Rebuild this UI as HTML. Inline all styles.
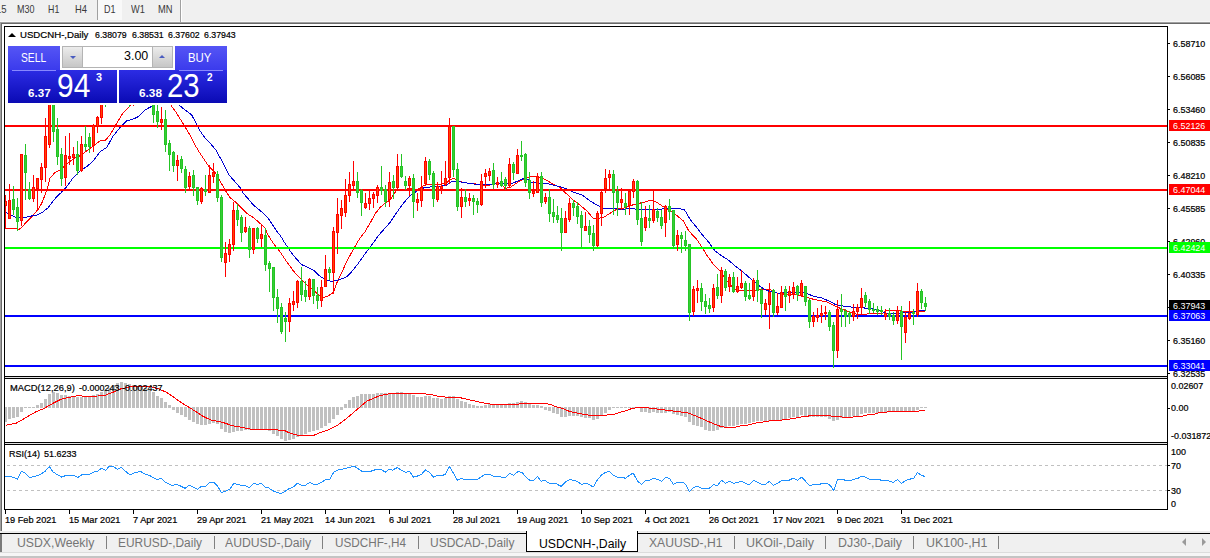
<!DOCTYPE html>
<html><head><meta charset="utf-8"><title>chart</title><style>
*{margin:0;padding:0;box-sizing:border-box}
html,body{width:1210px;height:558px;overflow:hidden;background:#f0f0f0;font-family:"Liberation Sans",sans-serif;}
.a{position:absolute;white-space:nowrap;line-height:1}
.t{position:absolute;white-space:nowrap;line-height:1;transform-origin:0 0}
.k{-webkit-text-stroke:0.22px #000}
</style></head><body>
<div class="a" style="left:0px;top:0px;width:1210px;height:22px;background:#f0f0f0;"></div>
<div class="a" style="left:0px;top:21px;width:1210px;height:1px;background:#f8f8f8;"></div>
<div class="a" style="left:0px;top:22px;width:1210px;height:1px;background:#a0a0a0;"></div>
<div class="a" style="left:0px;top:23px;width:1210px;height:1px;background:#696969;"></div>
<div class="a" style="left:0px;top:24px;width:1210px;height:2px;background:#ffffff;"></div>
<div class="a" style="left:97px;top:0px;width:1px;height:20px;background:#a0a0a0;"></div>
<div class="a" style="left:98px;top:0px;width:24px;height:20px;background:#f9f9f9;"></div>
<div class="a" style="left:180px;top:0px;width:1px;height:22px;background:#a0a0a0;"></div>
<div class="a" style="left:181px;top:0px;width:1px;height:22px;background:#ffffff;"></div>
<div class="t" style="left:-4.40px;top:5.27px;font-size:10.2px;color:#3a3a3a;transform:scaleX(0.9344);">15</div>
<div class="t" style="left:16.50px;top:5.27px;font-size:10.2px;color:#3a3a3a;transform:scaleX(0.8820);">M30</div>
<div class="t" style="left:47.80px;top:5.27px;font-size:10.2px;color:#3a3a3a;transform:scaleX(0.8667);">H1</div>
<div class="t" style="left:74.80px;top:5.27px;font-size:10.2px;color:#3a3a3a;transform:scaleX(0.9204);">H4</div>
<div class="t" style="left:103.60px;top:5.27px;font-size:10.2px;color:#3a3a3a;transform:scaleX(0.8820);">D1</div>
<div class="t" style="left:131.20px;top:5.27px;font-size:10.2px;color:#3a3a3a;transform:scaleX(0.9020);">W1</div>
<div class="t" style="left:157.80px;top:5.27px;font-size:10.2px;color:#3a3a3a;transform:scaleX(0.9141);">MN</div>
<div class="a" style="left:0px;top:22px;width:1px;height:509px;background:#a0a0a0;"></div>
<div class="a" style="left:1px;top:23px;width:1px;height:508px;background:#696969;"></div>
<div class="a" style="left:2px;top:24px;width:1208px;height:507px;background:#ffffff;"></div>
<svg class="a" style="left:0;top:0" width="1210" height="558" viewBox="0 0 1210 558" shape-rendering="crispEdges">
<rect x="4" y="26" width="1164" height="1" fill="#000"/>
<rect x="4" y="26" width="1" height="484" fill="#000"/>
<rect x="1167" y="26" width="1" height="484" fill="#000"/>
<rect x="4" y="376" width="1164" height="1" fill="#000"/>
<rect x="4" y="378" width="1164" height="1" fill="#000"/>
<rect x="4" y="442" width="1164" height="1" fill="#000"/>
<rect x="4" y="444" width="1164" height="1" fill="#000"/>
<rect x="4" y="509" width="1164" height="1" fill="#000"/>
<rect x="5" y="377" width="1162" height="1" fill="#e0e0e0"/>
<rect x="5" y="443" width="1162" height="1" fill="#e0e0e0"/>
<rect x="1168" y="43" width="2" height="1" fill="#000"/>
<rect x="1168" y="76" width="2" height="1" fill="#000"/>
<rect x="1168" y="109" width="2" height="1" fill="#000"/>
<rect x="1168" y="142" width="2" height="1" fill="#000"/>
<rect x="1168" y="175" width="2" height="1" fill="#000"/>
<rect x="1168" y="208" width="2" height="1" fill="#000"/>
<rect x="1168" y="241" width="2" height="1" fill="#000"/>
<rect x="1168" y="274" width="2" height="1" fill="#000"/>
<rect x="1168" y="307" width="2" height="1" fill="#000"/>
<rect x="1168" y="340" width="2" height="1" fill="#000"/>
<rect x="1168" y="373" width="2" height="1" fill="#000"/>
<rect x="1168" y="408" width="2" height="1" fill="#000"/>
<rect x="1168" y="465" width="2" height="1" fill="#000"/>
<rect x="1168" y="490" width="2" height="1" fill="#000"/>
<rect x="5" y="510" width="1" height="4" fill="#000"/>
<rect x="69" y="510" width="1" height="4" fill="#000"/>
<rect x="133" y="510" width="1" height="4" fill="#000"/>
<rect x="197" y="510" width="1" height="4" fill="#000"/>
<rect x="261" y="510" width="1" height="4" fill="#000"/>
<rect x="325" y="510" width="1" height="4" fill="#000"/>
<rect x="389" y="510" width="1" height="4" fill="#000"/>
<rect x="453" y="510" width="1" height="4" fill="#000"/>
<rect x="517" y="510" width="1" height="4" fill="#000"/>
<rect x="581" y="510" width="1" height="4" fill="#000"/>
<rect x="645" y="510" width="1" height="4" fill="#000"/>
<rect x="709" y="510" width="1" height="4" fill="#000"/>
<rect x="773" y="510" width="1" height="4" fill="#000"/>
<rect x="837" y="510" width="1" height="4" fill="#000"/>
<rect x="901" y="510" width="1" height="4" fill="#000"/>
<rect x="7" y="465" width="3" height="1" fill="#c0c0c0"/>
<rect x="13" y="465" width="3" height="1" fill="#c0c0c0"/>
<rect x="19" y="465" width="3" height="1" fill="#c0c0c0"/>
<rect x="25" y="465" width="3" height="1" fill="#c0c0c0"/>
<rect x="31" y="465" width="3" height="1" fill="#c0c0c0"/>
<rect x="37" y="465" width="3" height="1" fill="#c0c0c0"/>
<rect x="43" y="465" width="3" height="1" fill="#c0c0c0"/>
<rect x="49" y="465" width="3" height="1" fill="#c0c0c0"/>
<rect x="55" y="465" width="3" height="1" fill="#c0c0c0"/>
<rect x="61" y="465" width="3" height="1" fill="#c0c0c0"/>
<rect x="67" y="465" width="3" height="1" fill="#c0c0c0"/>
<rect x="73" y="465" width="3" height="1" fill="#c0c0c0"/>
<rect x="79" y="465" width="3" height="1" fill="#c0c0c0"/>
<rect x="85" y="465" width="3" height="1" fill="#c0c0c0"/>
<rect x="91" y="465" width="3" height="1" fill="#c0c0c0"/>
<rect x="97" y="465" width="3" height="1" fill="#c0c0c0"/>
<rect x="103" y="465" width="3" height="1" fill="#c0c0c0"/>
<rect x="109" y="465" width="3" height="1" fill="#c0c0c0"/>
<rect x="115" y="465" width="3" height="1" fill="#c0c0c0"/>
<rect x="121" y="465" width="3" height="1" fill="#c0c0c0"/>
<rect x="127" y="465" width="3" height="1" fill="#c0c0c0"/>
<rect x="133" y="465" width="3" height="1" fill="#c0c0c0"/>
<rect x="139" y="465" width="3" height="1" fill="#c0c0c0"/>
<rect x="145" y="465" width="3" height="1" fill="#c0c0c0"/>
<rect x="151" y="465" width="3" height="1" fill="#c0c0c0"/>
<rect x="157" y="465" width="3" height="1" fill="#c0c0c0"/>
<rect x="163" y="465" width="3" height="1" fill="#c0c0c0"/>
<rect x="169" y="465" width="3" height="1" fill="#c0c0c0"/>
<rect x="175" y="465" width="3" height="1" fill="#c0c0c0"/>
<rect x="181" y="465" width="3" height="1" fill="#c0c0c0"/>
<rect x="187" y="465" width="3" height="1" fill="#c0c0c0"/>
<rect x="193" y="465" width="3" height="1" fill="#c0c0c0"/>
<rect x="199" y="465" width="3" height="1" fill="#c0c0c0"/>
<rect x="205" y="465" width="3" height="1" fill="#c0c0c0"/>
<rect x="211" y="465" width="3" height="1" fill="#c0c0c0"/>
<rect x="217" y="465" width="3" height="1" fill="#c0c0c0"/>
<rect x="223" y="465" width="3" height="1" fill="#c0c0c0"/>
<rect x="229" y="465" width="3" height="1" fill="#c0c0c0"/>
<rect x="235" y="465" width="3" height="1" fill="#c0c0c0"/>
<rect x="241" y="465" width="3" height="1" fill="#c0c0c0"/>
<rect x="247" y="465" width="3" height="1" fill="#c0c0c0"/>
<rect x="253" y="465" width="3" height="1" fill="#c0c0c0"/>
<rect x="259" y="465" width="3" height="1" fill="#c0c0c0"/>
<rect x="265" y="465" width="3" height="1" fill="#c0c0c0"/>
<rect x="271" y="465" width="3" height="1" fill="#c0c0c0"/>
<rect x="277" y="465" width="3" height="1" fill="#c0c0c0"/>
<rect x="283" y="465" width="3" height="1" fill="#c0c0c0"/>
<rect x="289" y="465" width="3" height="1" fill="#c0c0c0"/>
<rect x="295" y="465" width="3" height="1" fill="#c0c0c0"/>
<rect x="301" y="465" width="3" height="1" fill="#c0c0c0"/>
<rect x="307" y="465" width="3" height="1" fill="#c0c0c0"/>
<rect x="313" y="465" width="3" height="1" fill="#c0c0c0"/>
<rect x="319" y="465" width="3" height="1" fill="#c0c0c0"/>
<rect x="325" y="465" width="3" height="1" fill="#c0c0c0"/>
<rect x="331" y="465" width="3" height="1" fill="#c0c0c0"/>
<rect x="337" y="465" width="3" height="1" fill="#c0c0c0"/>
<rect x="343" y="465" width="3" height="1" fill="#c0c0c0"/>
<rect x="349" y="465" width="3" height="1" fill="#c0c0c0"/>
<rect x="355" y="465" width="3" height="1" fill="#c0c0c0"/>
<rect x="361" y="465" width="3" height="1" fill="#c0c0c0"/>
<rect x="367" y="465" width="3" height="1" fill="#c0c0c0"/>
<rect x="373" y="465" width="3" height="1" fill="#c0c0c0"/>
<rect x="379" y="465" width="3" height="1" fill="#c0c0c0"/>
<rect x="385" y="465" width="3" height="1" fill="#c0c0c0"/>
<rect x="391" y="465" width="3" height="1" fill="#c0c0c0"/>
<rect x="397" y="465" width="3" height="1" fill="#c0c0c0"/>
<rect x="403" y="465" width="3" height="1" fill="#c0c0c0"/>
<rect x="409" y="465" width="3" height="1" fill="#c0c0c0"/>
<rect x="415" y="465" width="3" height="1" fill="#c0c0c0"/>
<rect x="421" y="465" width="3" height="1" fill="#c0c0c0"/>
<rect x="427" y="465" width="3" height="1" fill="#c0c0c0"/>
<rect x="433" y="465" width="3" height="1" fill="#c0c0c0"/>
<rect x="439" y="465" width="3" height="1" fill="#c0c0c0"/>
<rect x="445" y="465" width="3" height="1" fill="#c0c0c0"/>
<rect x="451" y="465" width="3" height="1" fill="#c0c0c0"/>
<rect x="457" y="465" width="3" height="1" fill="#c0c0c0"/>
<rect x="463" y="465" width="3" height="1" fill="#c0c0c0"/>
<rect x="469" y="465" width="3" height="1" fill="#c0c0c0"/>
<rect x="475" y="465" width="3" height="1" fill="#c0c0c0"/>
<rect x="481" y="465" width="3" height="1" fill="#c0c0c0"/>
<rect x="487" y="465" width="3" height="1" fill="#c0c0c0"/>
<rect x="493" y="465" width="3" height="1" fill="#c0c0c0"/>
<rect x="499" y="465" width="3" height="1" fill="#c0c0c0"/>
<rect x="505" y="465" width="3" height="1" fill="#c0c0c0"/>
<rect x="511" y="465" width="3" height="1" fill="#c0c0c0"/>
<rect x="517" y="465" width="3" height="1" fill="#c0c0c0"/>
<rect x="523" y="465" width="3" height="1" fill="#c0c0c0"/>
<rect x="529" y="465" width="3" height="1" fill="#c0c0c0"/>
<rect x="535" y="465" width="3" height="1" fill="#c0c0c0"/>
<rect x="541" y="465" width="3" height="1" fill="#c0c0c0"/>
<rect x="547" y="465" width="3" height="1" fill="#c0c0c0"/>
<rect x="553" y="465" width="3" height="1" fill="#c0c0c0"/>
<rect x="559" y="465" width="3" height="1" fill="#c0c0c0"/>
<rect x="565" y="465" width="3" height="1" fill="#c0c0c0"/>
<rect x="571" y="465" width="3" height="1" fill="#c0c0c0"/>
<rect x="577" y="465" width="3" height="1" fill="#c0c0c0"/>
<rect x="583" y="465" width="3" height="1" fill="#c0c0c0"/>
<rect x="589" y="465" width="3" height="1" fill="#c0c0c0"/>
<rect x="595" y="465" width="3" height="1" fill="#c0c0c0"/>
<rect x="601" y="465" width="3" height="1" fill="#c0c0c0"/>
<rect x="607" y="465" width="3" height="1" fill="#c0c0c0"/>
<rect x="613" y="465" width="3" height="1" fill="#c0c0c0"/>
<rect x="619" y="465" width="3" height="1" fill="#c0c0c0"/>
<rect x="625" y="465" width="3" height="1" fill="#c0c0c0"/>
<rect x="631" y="465" width="3" height="1" fill="#c0c0c0"/>
<rect x="637" y="465" width="3" height="1" fill="#c0c0c0"/>
<rect x="643" y="465" width="3" height="1" fill="#c0c0c0"/>
<rect x="649" y="465" width="3" height="1" fill="#c0c0c0"/>
<rect x="655" y="465" width="3" height="1" fill="#c0c0c0"/>
<rect x="661" y="465" width="3" height="1" fill="#c0c0c0"/>
<rect x="667" y="465" width="3" height="1" fill="#c0c0c0"/>
<rect x="673" y="465" width="3" height="1" fill="#c0c0c0"/>
<rect x="679" y="465" width="3" height="1" fill="#c0c0c0"/>
<rect x="685" y="465" width="3" height="1" fill="#c0c0c0"/>
<rect x="691" y="465" width="3" height="1" fill="#c0c0c0"/>
<rect x="697" y="465" width="3" height="1" fill="#c0c0c0"/>
<rect x="703" y="465" width="3" height="1" fill="#c0c0c0"/>
<rect x="709" y="465" width="3" height="1" fill="#c0c0c0"/>
<rect x="715" y="465" width="3" height="1" fill="#c0c0c0"/>
<rect x="721" y="465" width="3" height="1" fill="#c0c0c0"/>
<rect x="727" y="465" width="3" height="1" fill="#c0c0c0"/>
<rect x="733" y="465" width="3" height="1" fill="#c0c0c0"/>
<rect x="739" y="465" width="3" height="1" fill="#c0c0c0"/>
<rect x="745" y="465" width="3" height="1" fill="#c0c0c0"/>
<rect x="751" y="465" width="3" height="1" fill="#c0c0c0"/>
<rect x="757" y="465" width="3" height="1" fill="#c0c0c0"/>
<rect x="763" y="465" width="3" height="1" fill="#c0c0c0"/>
<rect x="769" y="465" width="3" height="1" fill="#c0c0c0"/>
<rect x="775" y="465" width="3" height="1" fill="#c0c0c0"/>
<rect x="781" y="465" width="3" height="1" fill="#c0c0c0"/>
<rect x="787" y="465" width="3" height="1" fill="#c0c0c0"/>
<rect x="793" y="465" width="3" height="1" fill="#c0c0c0"/>
<rect x="799" y="465" width="3" height="1" fill="#c0c0c0"/>
<rect x="805" y="465" width="3" height="1" fill="#c0c0c0"/>
<rect x="811" y="465" width="3" height="1" fill="#c0c0c0"/>
<rect x="817" y="465" width="3" height="1" fill="#c0c0c0"/>
<rect x="823" y="465" width="3" height="1" fill="#c0c0c0"/>
<rect x="829" y="465" width="3" height="1" fill="#c0c0c0"/>
<rect x="835" y="465" width="3" height="1" fill="#c0c0c0"/>
<rect x="841" y="465" width="3" height="1" fill="#c0c0c0"/>
<rect x="847" y="465" width="3" height="1" fill="#c0c0c0"/>
<rect x="853" y="465" width="3" height="1" fill="#c0c0c0"/>
<rect x="859" y="465" width="3" height="1" fill="#c0c0c0"/>
<rect x="865" y="465" width="3" height="1" fill="#c0c0c0"/>
<rect x="871" y="465" width="3" height="1" fill="#c0c0c0"/>
<rect x="877" y="465" width="3" height="1" fill="#c0c0c0"/>
<rect x="883" y="465" width="3" height="1" fill="#c0c0c0"/>
<rect x="889" y="465" width="3" height="1" fill="#c0c0c0"/>
<rect x="895" y="465" width="3" height="1" fill="#c0c0c0"/>
<rect x="901" y="465" width="3" height="1" fill="#c0c0c0"/>
<rect x="907" y="465" width="3" height="1" fill="#c0c0c0"/>
<rect x="913" y="465" width="3" height="1" fill="#c0c0c0"/>
<rect x="919" y="465" width="3" height="1" fill="#c0c0c0"/>
<rect x="925" y="465" width="3" height="1" fill="#c0c0c0"/>
<rect x="931" y="465" width="3" height="1" fill="#c0c0c0"/>
<rect x="937" y="465" width="3" height="1" fill="#c0c0c0"/>
<rect x="943" y="465" width="3" height="1" fill="#c0c0c0"/>
<rect x="949" y="465" width="3" height="1" fill="#c0c0c0"/>
<rect x="955" y="465" width="3" height="1" fill="#c0c0c0"/>
<rect x="961" y="465" width="3" height="1" fill="#c0c0c0"/>
<rect x="967" y="465" width="3" height="1" fill="#c0c0c0"/>
<rect x="973" y="465" width="3" height="1" fill="#c0c0c0"/>
<rect x="979" y="465" width="3" height="1" fill="#c0c0c0"/>
<rect x="985" y="465" width="3" height="1" fill="#c0c0c0"/>
<rect x="991" y="465" width="3" height="1" fill="#c0c0c0"/>
<rect x="997" y="465" width="3" height="1" fill="#c0c0c0"/>
<rect x="1003" y="465" width="3" height="1" fill="#c0c0c0"/>
<rect x="1009" y="465" width="3" height="1" fill="#c0c0c0"/>
<rect x="1015" y="465" width="3" height="1" fill="#c0c0c0"/>
<rect x="1021" y="465" width="3" height="1" fill="#c0c0c0"/>
<rect x="1027" y="465" width="3" height="1" fill="#c0c0c0"/>
<rect x="1033" y="465" width="3" height="1" fill="#c0c0c0"/>
<rect x="1039" y="465" width="3" height="1" fill="#c0c0c0"/>
<rect x="1045" y="465" width="3" height="1" fill="#c0c0c0"/>
<rect x="1051" y="465" width="3" height="1" fill="#c0c0c0"/>
<rect x="1057" y="465" width="3" height="1" fill="#c0c0c0"/>
<rect x="1063" y="465" width="3" height="1" fill="#c0c0c0"/>
<rect x="1069" y="465" width="3" height="1" fill="#c0c0c0"/>
<rect x="1075" y="465" width="3" height="1" fill="#c0c0c0"/>
<rect x="1081" y="465" width="3" height="1" fill="#c0c0c0"/>
<rect x="1087" y="465" width="3" height="1" fill="#c0c0c0"/>
<rect x="1093" y="465" width="3" height="1" fill="#c0c0c0"/>
<rect x="1099" y="465" width="3" height="1" fill="#c0c0c0"/>
<rect x="1105" y="465" width="3" height="1" fill="#c0c0c0"/>
<rect x="1111" y="465" width="3" height="1" fill="#c0c0c0"/>
<rect x="1117" y="465" width="3" height="1" fill="#c0c0c0"/>
<rect x="1123" y="465" width="3" height="1" fill="#c0c0c0"/>
<rect x="1129" y="465" width="3" height="1" fill="#c0c0c0"/>
<rect x="1135" y="465" width="3" height="1" fill="#c0c0c0"/>
<rect x="1141" y="465" width="3" height="1" fill="#c0c0c0"/>
<rect x="1147" y="465" width="3" height="1" fill="#c0c0c0"/>
<rect x="1153" y="465" width="3" height="1" fill="#c0c0c0"/>
<rect x="1159" y="465" width="3" height="1" fill="#c0c0c0"/>
<rect x="1165" y="465" width="2" height="1" fill="#c0c0c0"/>
<rect x="7" y="490" width="3" height="1" fill="#c0c0c0"/>
<rect x="13" y="490" width="3" height="1" fill="#c0c0c0"/>
<rect x="19" y="490" width="3" height="1" fill="#c0c0c0"/>
<rect x="25" y="490" width="3" height="1" fill="#c0c0c0"/>
<rect x="31" y="490" width="3" height="1" fill="#c0c0c0"/>
<rect x="37" y="490" width="3" height="1" fill="#c0c0c0"/>
<rect x="43" y="490" width="3" height="1" fill="#c0c0c0"/>
<rect x="49" y="490" width="3" height="1" fill="#c0c0c0"/>
<rect x="55" y="490" width="3" height="1" fill="#c0c0c0"/>
<rect x="61" y="490" width="3" height="1" fill="#c0c0c0"/>
<rect x="67" y="490" width="3" height="1" fill="#c0c0c0"/>
<rect x="73" y="490" width="3" height="1" fill="#c0c0c0"/>
<rect x="79" y="490" width="3" height="1" fill="#c0c0c0"/>
<rect x="85" y="490" width="3" height="1" fill="#c0c0c0"/>
<rect x="91" y="490" width="3" height="1" fill="#c0c0c0"/>
<rect x="97" y="490" width="3" height="1" fill="#c0c0c0"/>
<rect x="103" y="490" width="3" height="1" fill="#c0c0c0"/>
<rect x="109" y="490" width="3" height="1" fill="#c0c0c0"/>
<rect x="115" y="490" width="3" height="1" fill="#c0c0c0"/>
<rect x="121" y="490" width="3" height="1" fill="#c0c0c0"/>
<rect x="127" y="490" width="3" height="1" fill="#c0c0c0"/>
<rect x="133" y="490" width="3" height="1" fill="#c0c0c0"/>
<rect x="139" y="490" width="3" height="1" fill="#c0c0c0"/>
<rect x="145" y="490" width="3" height="1" fill="#c0c0c0"/>
<rect x="151" y="490" width="3" height="1" fill="#c0c0c0"/>
<rect x="157" y="490" width="3" height="1" fill="#c0c0c0"/>
<rect x="163" y="490" width="3" height="1" fill="#c0c0c0"/>
<rect x="169" y="490" width="3" height="1" fill="#c0c0c0"/>
<rect x="175" y="490" width="3" height="1" fill="#c0c0c0"/>
<rect x="181" y="490" width="3" height="1" fill="#c0c0c0"/>
<rect x="187" y="490" width="3" height="1" fill="#c0c0c0"/>
<rect x="193" y="490" width="3" height="1" fill="#c0c0c0"/>
<rect x="199" y="490" width="3" height="1" fill="#c0c0c0"/>
<rect x="205" y="490" width="3" height="1" fill="#c0c0c0"/>
<rect x="211" y="490" width="3" height="1" fill="#c0c0c0"/>
<rect x="217" y="490" width="3" height="1" fill="#c0c0c0"/>
<rect x="223" y="490" width="3" height="1" fill="#c0c0c0"/>
<rect x="229" y="490" width="3" height="1" fill="#c0c0c0"/>
<rect x="235" y="490" width="3" height="1" fill="#c0c0c0"/>
<rect x="241" y="490" width="3" height="1" fill="#c0c0c0"/>
<rect x="247" y="490" width="3" height="1" fill="#c0c0c0"/>
<rect x="253" y="490" width="3" height="1" fill="#c0c0c0"/>
<rect x="259" y="490" width="3" height="1" fill="#c0c0c0"/>
<rect x="265" y="490" width="3" height="1" fill="#c0c0c0"/>
<rect x="271" y="490" width="3" height="1" fill="#c0c0c0"/>
<rect x="277" y="490" width="3" height="1" fill="#c0c0c0"/>
<rect x="283" y="490" width="3" height="1" fill="#c0c0c0"/>
<rect x="289" y="490" width="3" height="1" fill="#c0c0c0"/>
<rect x="295" y="490" width="3" height="1" fill="#c0c0c0"/>
<rect x="301" y="490" width="3" height="1" fill="#c0c0c0"/>
<rect x="307" y="490" width="3" height="1" fill="#c0c0c0"/>
<rect x="313" y="490" width="3" height="1" fill="#c0c0c0"/>
<rect x="319" y="490" width="3" height="1" fill="#c0c0c0"/>
<rect x="325" y="490" width="3" height="1" fill="#c0c0c0"/>
<rect x="331" y="490" width="3" height="1" fill="#c0c0c0"/>
<rect x="337" y="490" width="3" height="1" fill="#c0c0c0"/>
<rect x="343" y="490" width="3" height="1" fill="#c0c0c0"/>
<rect x="349" y="490" width="3" height="1" fill="#c0c0c0"/>
<rect x="355" y="490" width="3" height="1" fill="#c0c0c0"/>
<rect x="361" y="490" width="3" height="1" fill="#c0c0c0"/>
<rect x="367" y="490" width="3" height="1" fill="#c0c0c0"/>
<rect x="373" y="490" width="3" height="1" fill="#c0c0c0"/>
<rect x="379" y="490" width="3" height="1" fill="#c0c0c0"/>
<rect x="385" y="490" width="3" height="1" fill="#c0c0c0"/>
<rect x="391" y="490" width="3" height="1" fill="#c0c0c0"/>
<rect x="397" y="490" width="3" height="1" fill="#c0c0c0"/>
<rect x="403" y="490" width="3" height="1" fill="#c0c0c0"/>
<rect x="409" y="490" width="3" height="1" fill="#c0c0c0"/>
<rect x="415" y="490" width="3" height="1" fill="#c0c0c0"/>
<rect x="421" y="490" width="3" height="1" fill="#c0c0c0"/>
<rect x="427" y="490" width="3" height="1" fill="#c0c0c0"/>
<rect x="433" y="490" width="3" height="1" fill="#c0c0c0"/>
<rect x="439" y="490" width="3" height="1" fill="#c0c0c0"/>
<rect x="445" y="490" width="3" height="1" fill="#c0c0c0"/>
<rect x="451" y="490" width="3" height="1" fill="#c0c0c0"/>
<rect x="457" y="490" width="3" height="1" fill="#c0c0c0"/>
<rect x="463" y="490" width="3" height="1" fill="#c0c0c0"/>
<rect x="469" y="490" width="3" height="1" fill="#c0c0c0"/>
<rect x="475" y="490" width="3" height="1" fill="#c0c0c0"/>
<rect x="481" y="490" width="3" height="1" fill="#c0c0c0"/>
<rect x="487" y="490" width="3" height="1" fill="#c0c0c0"/>
<rect x="493" y="490" width="3" height="1" fill="#c0c0c0"/>
<rect x="499" y="490" width="3" height="1" fill="#c0c0c0"/>
<rect x="505" y="490" width="3" height="1" fill="#c0c0c0"/>
<rect x="511" y="490" width="3" height="1" fill="#c0c0c0"/>
<rect x="517" y="490" width="3" height="1" fill="#c0c0c0"/>
<rect x="523" y="490" width="3" height="1" fill="#c0c0c0"/>
<rect x="529" y="490" width="3" height="1" fill="#c0c0c0"/>
<rect x="535" y="490" width="3" height="1" fill="#c0c0c0"/>
<rect x="541" y="490" width="3" height="1" fill="#c0c0c0"/>
<rect x="547" y="490" width="3" height="1" fill="#c0c0c0"/>
<rect x="553" y="490" width="3" height="1" fill="#c0c0c0"/>
<rect x="559" y="490" width="3" height="1" fill="#c0c0c0"/>
<rect x="565" y="490" width="3" height="1" fill="#c0c0c0"/>
<rect x="571" y="490" width="3" height="1" fill="#c0c0c0"/>
<rect x="577" y="490" width="3" height="1" fill="#c0c0c0"/>
<rect x="583" y="490" width="3" height="1" fill="#c0c0c0"/>
<rect x="589" y="490" width="3" height="1" fill="#c0c0c0"/>
<rect x="595" y="490" width="3" height="1" fill="#c0c0c0"/>
<rect x="601" y="490" width="3" height="1" fill="#c0c0c0"/>
<rect x="607" y="490" width="3" height="1" fill="#c0c0c0"/>
<rect x="613" y="490" width="3" height="1" fill="#c0c0c0"/>
<rect x="619" y="490" width="3" height="1" fill="#c0c0c0"/>
<rect x="625" y="490" width="3" height="1" fill="#c0c0c0"/>
<rect x="631" y="490" width="3" height="1" fill="#c0c0c0"/>
<rect x="637" y="490" width="3" height="1" fill="#c0c0c0"/>
<rect x="643" y="490" width="3" height="1" fill="#c0c0c0"/>
<rect x="649" y="490" width="3" height="1" fill="#c0c0c0"/>
<rect x="655" y="490" width="3" height="1" fill="#c0c0c0"/>
<rect x="661" y="490" width="3" height="1" fill="#c0c0c0"/>
<rect x="667" y="490" width="3" height="1" fill="#c0c0c0"/>
<rect x="673" y="490" width="3" height="1" fill="#c0c0c0"/>
<rect x="679" y="490" width="3" height="1" fill="#c0c0c0"/>
<rect x="685" y="490" width="3" height="1" fill="#c0c0c0"/>
<rect x="691" y="490" width="3" height="1" fill="#c0c0c0"/>
<rect x="697" y="490" width="3" height="1" fill="#c0c0c0"/>
<rect x="703" y="490" width="3" height="1" fill="#c0c0c0"/>
<rect x="709" y="490" width="3" height="1" fill="#c0c0c0"/>
<rect x="715" y="490" width="3" height="1" fill="#c0c0c0"/>
<rect x="721" y="490" width="3" height="1" fill="#c0c0c0"/>
<rect x="727" y="490" width="3" height="1" fill="#c0c0c0"/>
<rect x="733" y="490" width="3" height="1" fill="#c0c0c0"/>
<rect x="739" y="490" width="3" height="1" fill="#c0c0c0"/>
<rect x="745" y="490" width="3" height="1" fill="#c0c0c0"/>
<rect x="751" y="490" width="3" height="1" fill="#c0c0c0"/>
<rect x="757" y="490" width="3" height="1" fill="#c0c0c0"/>
<rect x="763" y="490" width="3" height="1" fill="#c0c0c0"/>
<rect x="769" y="490" width="3" height="1" fill="#c0c0c0"/>
<rect x="775" y="490" width="3" height="1" fill="#c0c0c0"/>
<rect x="781" y="490" width="3" height="1" fill="#c0c0c0"/>
<rect x="787" y="490" width="3" height="1" fill="#c0c0c0"/>
<rect x="793" y="490" width="3" height="1" fill="#c0c0c0"/>
<rect x="799" y="490" width="3" height="1" fill="#c0c0c0"/>
<rect x="805" y="490" width="3" height="1" fill="#c0c0c0"/>
<rect x="811" y="490" width="3" height="1" fill="#c0c0c0"/>
<rect x="817" y="490" width="3" height="1" fill="#c0c0c0"/>
<rect x="823" y="490" width="3" height="1" fill="#c0c0c0"/>
<rect x="829" y="490" width="3" height="1" fill="#c0c0c0"/>
<rect x="835" y="490" width="3" height="1" fill="#c0c0c0"/>
<rect x="841" y="490" width="3" height="1" fill="#c0c0c0"/>
<rect x="847" y="490" width="3" height="1" fill="#c0c0c0"/>
<rect x="853" y="490" width="3" height="1" fill="#c0c0c0"/>
<rect x="859" y="490" width="3" height="1" fill="#c0c0c0"/>
<rect x="865" y="490" width="3" height="1" fill="#c0c0c0"/>
<rect x="871" y="490" width="3" height="1" fill="#c0c0c0"/>
<rect x="877" y="490" width="3" height="1" fill="#c0c0c0"/>
<rect x="883" y="490" width="3" height="1" fill="#c0c0c0"/>
<rect x="889" y="490" width="3" height="1" fill="#c0c0c0"/>
<rect x="895" y="490" width="3" height="1" fill="#c0c0c0"/>
<rect x="901" y="490" width="3" height="1" fill="#c0c0c0"/>
<rect x="907" y="490" width="3" height="1" fill="#c0c0c0"/>
<rect x="913" y="490" width="3" height="1" fill="#c0c0c0"/>
<rect x="919" y="490" width="3" height="1" fill="#c0c0c0"/>
<rect x="925" y="490" width="3" height="1" fill="#c0c0c0"/>
<rect x="931" y="490" width="3" height="1" fill="#c0c0c0"/>
<rect x="937" y="490" width="3" height="1" fill="#c0c0c0"/>
<rect x="943" y="490" width="3" height="1" fill="#c0c0c0"/>
<rect x="949" y="490" width="3" height="1" fill="#c0c0c0"/>
<rect x="955" y="490" width="3" height="1" fill="#c0c0c0"/>
<rect x="961" y="490" width="3" height="1" fill="#c0c0c0"/>
<rect x="967" y="490" width="3" height="1" fill="#c0c0c0"/>
<rect x="973" y="490" width="3" height="1" fill="#c0c0c0"/>
<rect x="979" y="490" width="3" height="1" fill="#c0c0c0"/>
<rect x="985" y="490" width="3" height="1" fill="#c0c0c0"/>
<rect x="991" y="490" width="3" height="1" fill="#c0c0c0"/>
<rect x="997" y="490" width="3" height="1" fill="#c0c0c0"/>
<rect x="1003" y="490" width="3" height="1" fill="#c0c0c0"/>
<rect x="1009" y="490" width="3" height="1" fill="#c0c0c0"/>
<rect x="1015" y="490" width="3" height="1" fill="#c0c0c0"/>
<rect x="1021" y="490" width="3" height="1" fill="#c0c0c0"/>
<rect x="1027" y="490" width="3" height="1" fill="#c0c0c0"/>
<rect x="1033" y="490" width="3" height="1" fill="#c0c0c0"/>
<rect x="1039" y="490" width="3" height="1" fill="#c0c0c0"/>
<rect x="1045" y="490" width="3" height="1" fill="#c0c0c0"/>
<rect x="1051" y="490" width="3" height="1" fill="#c0c0c0"/>
<rect x="1057" y="490" width="3" height="1" fill="#c0c0c0"/>
<rect x="1063" y="490" width="3" height="1" fill="#c0c0c0"/>
<rect x="1069" y="490" width="3" height="1" fill="#c0c0c0"/>
<rect x="1075" y="490" width="3" height="1" fill="#c0c0c0"/>
<rect x="1081" y="490" width="3" height="1" fill="#c0c0c0"/>
<rect x="1087" y="490" width="3" height="1" fill="#c0c0c0"/>
<rect x="1093" y="490" width="3" height="1" fill="#c0c0c0"/>
<rect x="1099" y="490" width="3" height="1" fill="#c0c0c0"/>
<rect x="1105" y="490" width="3" height="1" fill="#c0c0c0"/>
<rect x="1111" y="490" width="3" height="1" fill="#c0c0c0"/>
<rect x="1117" y="490" width="3" height="1" fill="#c0c0c0"/>
<rect x="1123" y="490" width="3" height="1" fill="#c0c0c0"/>
<rect x="1129" y="490" width="3" height="1" fill="#c0c0c0"/>
<rect x="1135" y="490" width="3" height="1" fill="#c0c0c0"/>
<rect x="1141" y="490" width="3" height="1" fill="#c0c0c0"/>
<rect x="1147" y="490" width="3" height="1" fill="#c0c0c0"/>
<rect x="1153" y="490" width="3" height="1" fill="#c0c0c0"/>
<rect x="1159" y="490" width="3" height="1" fill="#c0c0c0"/>
<rect x="1165" y="490" width="2" height="1" fill="#c0c0c0"/>
<rect x="4" y="407" width="3" height="15" fill="#c0c0c0"/>
<rect x="8" y="407" width="3" height="12" fill="#c0c0c0"/>
<rect x="12" y="407" width="3" height="11" fill="#c0c0c0"/>
<rect x="16" y="407" width="3" height="10" fill="#c0c0c0"/>
<rect x="20" y="407" width="3" height="5" fill="#c0c0c0"/>
<rect x="24" y="407" width="3" height="1" fill="#c0c0c0"/>
<rect x="28" y="407" width="3" height="1" fill="#c0c0c0"/>
<rect x="32" y="407" width="3" height="1" fill="#c0c0c0"/>
<rect x="36" y="405" width="3" height="3" fill="#c0c0c0"/>
<rect x="40" y="403" width="3" height="5" fill="#c0c0c0"/>
<rect x="44" y="399" width="3" height="9" fill="#c0c0c0"/>
<rect x="48" y="394" width="3" height="14" fill="#c0c0c0"/>
<rect x="52" y="392" width="3" height="16" fill="#c0c0c0"/>
<rect x="56" y="393" width="3" height="15" fill="#c0c0c0"/>
<rect x="60" y="395" width="3" height="13" fill="#c0c0c0"/>
<rect x="64" y="395" width="3" height="13" fill="#c0c0c0"/>
<rect x="68" y="396" width="3" height="12" fill="#c0c0c0"/>
<rect x="72" y="396" width="3" height="12" fill="#c0c0c0"/>
<rect x="76" y="397" width="3" height="11" fill="#c0c0c0"/>
<rect x="80" y="397" width="3" height="11" fill="#c0c0c0"/>
<rect x="84" y="397" width="3" height="11" fill="#c0c0c0"/>
<rect x="88" y="396" width="3" height="12" fill="#c0c0c0"/>
<rect x="92" y="395" width="3" height="13" fill="#c0c0c0"/>
<rect x="96" y="394" width="3" height="14" fill="#c0c0c0"/>
<rect x="100" y="392" width="3" height="16" fill="#c0c0c0"/>
<rect x="104" y="390" width="3" height="18" fill="#c0c0c0"/>
<rect x="108" y="388" width="3" height="20" fill="#c0c0c0"/>
<rect x="112" y="385" width="3" height="23" fill="#c0c0c0"/>
<rect x="116" y="383" width="3" height="25" fill="#c0c0c0"/>
<rect x="120" y="382" width="3" height="26" fill="#c0c0c0"/>
<rect x="124" y="383" width="3" height="25" fill="#c0c0c0"/>
<rect x="128" y="384" width="3" height="24" fill="#c0c0c0"/>
<rect x="132" y="385" width="3" height="23" fill="#c0c0c0"/>
<rect x="136" y="386" width="3" height="22" fill="#c0c0c0"/>
<rect x="140" y="387" width="3" height="21" fill="#c0c0c0"/>
<rect x="144" y="388" width="3" height="20" fill="#c0c0c0"/>
<rect x="148" y="390" width="3" height="18" fill="#c0c0c0"/>
<rect x="152" y="392" width="3" height="16" fill="#c0c0c0"/>
<rect x="156" y="396" width="3" height="12" fill="#c0c0c0"/>
<rect x="160" y="398" width="3" height="10" fill="#c0c0c0"/>
<rect x="164" y="402" width="3" height="6" fill="#c0c0c0"/>
<rect x="168" y="405" width="3" height="3" fill="#c0c0c0"/>
<rect x="172" y="407" width="3" height="3" fill="#c0c0c0"/>
<rect x="176" y="407" width="3" height="6" fill="#c0c0c0"/>
<rect x="180" y="407" width="3" height="8" fill="#c0c0c0"/>
<rect x="184" y="407" width="3" height="10" fill="#c0c0c0"/>
<rect x="188" y="407" width="3" height="13" fill="#c0c0c0"/>
<rect x="192" y="407" width="3" height="15" fill="#c0c0c0"/>
<rect x="196" y="407" width="3" height="17" fill="#c0c0c0"/>
<rect x="200" y="407" width="3" height="18" fill="#c0c0c0"/>
<rect x="204" y="407" width="3" height="18" fill="#c0c0c0"/>
<rect x="208" y="407" width="3" height="17" fill="#c0c0c0"/>
<rect x="212" y="407" width="3" height="16" fill="#c0c0c0"/>
<rect x="216" y="407" width="3" height="17" fill="#c0c0c0"/>
<rect x="220" y="407" width="3" height="22" fill="#c0c0c0"/>
<rect x="224" y="407" width="3" height="25" fill="#c0c0c0"/>
<rect x="228" y="407" width="3" height="26" fill="#c0c0c0"/>
<rect x="232" y="407" width="3" height="25" fill="#c0c0c0"/>
<rect x="236" y="407" width="3" height="24" fill="#c0c0c0"/>
<rect x="240" y="407" width="3" height="24" fill="#c0c0c0"/>
<rect x="244" y="407" width="3" height="23" fill="#c0c0c0"/>
<rect x="248" y="407" width="3" height="23" fill="#c0c0c0"/>
<rect x="252" y="407" width="3" height="23" fill="#c0c0c0"/>
<rect x="256" y="407" width="3" height="22" fill="#c0c0c0"/>
<rect x="260" y="407" width="3" height="22" fill="#c0c0c0"/>
<rect x="264" y="407" width="3" height="23" fill="#c0c0c0"/>
<rect x="268" y="407" width="3" height="24" fill="#c0c0c0"/>
<rect x="272" y="407" width="3" height="27" fill="#c0c0c0"/>
<rect x="276" y="407" width="3" height="29" fill="#c0c0c0"/>
<rect x="280" y="407" width="3" height="32" fill="#c0c0c0"/>
<rect x="284" y="407" width="3" height="34" fill="#c0c0c0"/>
<rect x="288" y="407" width="3" height="33" fill="#c0c0c0"/>
<rect x="292" y="407" width="3" height="32" fill="#c0c0c0"/>
<rect x="296" y="407" width="3" height="30" fill="#c0c0c0"/>
<rect x="300" y="407" width="3" height="29" fill="#c0c0c0"/>
<rect x="304" y="407" width="3" height="27" fill="#c0c0c0"/>
<rect x="308" y="407" width="3" height="25" fill="#c0c0c0"/>
<rect x="312" y="407" width="3" height="24" fill="#c0c0c0"/>
<rect x="316" y="407" width="3" height="23" fill="#c0c0c0"/>
<rect x="320" y="407" width="3" height="21" fill="#c0c0c0"/>
<rect x="324" y="407" width="3" height="19" fill="#c0c0c0"/>
<rect x="328" y="407" width="3" height="16" fill="#c0c0c0"/>
<rect x="332" y="407" width="3" height="12" fill="#c0c0c0"/>
<rect x="336" y="407" width="3" height="8" fill="#c0c0c0"/>
<rect x="340" y="407" width="3" height="3" fill="#c0c0c0"/>
<rect x="344" y="404" width="3" height="4" fill="#c0c0c0"/>
<rect x="348" y="400" width="3" height="8" fill="#c0c0c0"/>
<rect x="352" y="397" width="3" height="11" fill="#c0c0c0"/>
<rect x="356" y="396" width="3" height="12" fill="#c0c0c0"/>
<rect x="360" y="394" width="3" height="14" fill="#c0c0c0"/>
<rect x="364" y="394" width="3" height="14" fill="#c0c0c0"/>
<rect x="368" y="394" width="3" height="14" fill="#c0c0c0"/>
<rect x="372" y="394" width="3" height="14" fill="#c0c0c0"/>
<rect x="376" y="393" width="3" height="15" fill="#c0c0c0"/>
<rect x="380" y="393" width="3" height="15" fill="#c0c0c0"/>
<rect x="384" y="393" width="3" height="15" fill="#c0c0c0"/>
<rect x="388" y="393" width="3" height="15" fill="#c0c0c0"/>
<rect x="392" y="394" width="3" height="14" fill="#c0c0c0"/>
<rect x="396" y="392" width="3" height="16" fill="#c0c0c0"/>
<rect x="400" y="392" width="3" height="16" fill="#c0c0c0"/>
<rect x="404" y="393" width="3" height="15" fill="#c0c0c0"/>
<rect x="408" y="394" width="3" height="14" fill="#c0c0c0"/>
<rect x="412" y="395" width="3" height="13" fill="#c0c0c0"/>
<rect x="416" y="397" width="3" height="11" fill="#c0c0c0"/>
<rect x="420" y="397" width="3" height="11" fill="#c0c0c0"/>
<rect x="424" y="396" width="3" height="12" fill="#c0c0c0"/>
<rect x="428" y="396" width="3" height="12" fill="#c0c0c0"/>
<rect x="432" y="398" width="3" height="10" fill="#c0c0c0"/>
<rect x="436" y="398" width="3" height="10" fill="#c0c0c0"/>
<rect x="440" y="399" width="3" height="9" fill="#c0c0c0"/>
<rect x="444" y="398" width="3" height="10" fill="#c0c0c0"/>
<rect x="448" y="396" width="3" height="12" fill="#c0c0c0"/>
<rect x="452" y="396" width="3" height="12" fill="#c0c0c0"/>
<rect x="456" y="399" width="3" height="9" fill="#c0c0c0"/>
<rect x="460" y="401" width="3" height="7" fill="#c0c0c0"/>
<rect x="464" y="402" width="3" height="6" fill="#c0c0c0"/>
<rect x="468" y="404" width="3" height="4" fill="#c0c0c0"/>
<rect x="472" y="405" width="3" height="3" fill="#c0c0c0"/>
<rect x="476" y="406" width="3" height="2" fill="#c0c0c0"/>
<rect x="480" y="406" width="3" height="2" fill="#c0c0c0"/>
<rect x="484" y="405" width="3" height="3" fill="#c0c0c0"/>
<rect x="488" y="404" width="3" height="4" fill="#c0c0c0"/>
<rect x="492" y="404" width="3" height="4" fill="#c0c0c0"/>
<rect x="496" y="404" width="3" height="4" fill="#c0c0c0"/>
<rect x="500" y="404" width="3" height="4" fill="#c0c0c0"/>
<rect x="504" y="404" width="3" height="4" fill="#c0c0c0"/>
<rect x="508" y="403" width="3" height="5" fill="#c0c0c0"/>
<rect x="512" y="403" width="3" height="5" fill="#c0c0c0"/>
<rect x="516" y="402" width="3" height="6" fill="#c0c0c0"/>
<rect x="520" y="401" width="3" height="7" fill="#c0c0c0"/>
<rect x="524" y="402" width="3" height="6" fill="#c0c0c0"/>
<rect x="528" y="403" width="3" height="5" fill="#c0c0c0"/>
<rect x="532" y="405" width="3" height="3" fill="#c0c0c0"/>
<rect x="536" y="405" width="3" height="3" fill="#c0c0c0"/>
<rect x="540" y="406" width="3" height="2" fill="#c0c0c0"/>
<rect x="544" y="407" width="3" height="3" fill="#c0c0c0"/>
<rect x="548" y="407" width="3" height="4" fill="#c0c0c0"/>
<rect x="552" y="407" width="3" height="6" fill="#c0c0c0"/>
<rect x="556" y="407" width="3" height="7" fill="#c0c0c0"/>
<rect x="560" y="407" width="3" height="10" fill="#c0c0c0"/>
<rect x="564" y="407" width="3" height="10" fill="#c0c0c0"/>
<rect x="568" y="407" width="3" height="9" fill="#c0c0c0"/>
<rect x="572" y="407" width="3" height="9" fill="#c0c0c0"/>
<rect x="576" y="407" width="3" height="9" fill="#c0c0c0"/>
<rect x="580" y="407" width="3" height="10" fill="#c0c0c0"/>
<rect x="584" y="407" width="3" height="11" fill="#c0c0c0"/>
<rect x="588" y="407" width="3" height="11" fill="#c0c0c0"/>
<rect x="592" y="407" width="3" height="13" fill="#c0c0c0"/>
<rect x="596" y="407" width="3" height="12" fill="#c0c0c0"/>
<rect x="600" y="407" width="3" height="9" fill="#c0c0c0"/>
<rect x="604" y="407" width="3" height="6" fill="#c0c0c0"/>
<rect x="608" y="407" width="3" height="3" fill="#c0c0c0"/>
<rect x="612" y="407" width="3" height="1" fill="#c0c0c0"/>
<rect x="616" y="407" width="3" height="1" fill="#c0c0c0"/>
<rect x="620" y="407" width="3" height="1" fill="#c0c0c0"/>
<rect x="624" y="407" width="3" height="1" fill="#c0c0c0"/>
<rect x="628" y="407" width="3" height="1" fill="#c0c0c0"/>
<rect x="632" y="407" width="3" height="1" fill="#c0c0c0"/>
<rect x="636" y="407" width="3" height="1" fill="#c0c0c0"/>
<rect x="640" y="407" width="3" height="5" fill="#c0c0c0"/>
<rect x="644" y="407" width="3" height="5" fill="#c0c0c0"/>
<rect x="648" y="407" width="3" height="6" fill="#c0c0c0"/>
<rect x="652" y="407" width="3" height="5" fill="#c0c0c0"/>
<rect x="656" y="407" width="3" height="6" fill="#c0c0c0"/>
<rect x="660" y="407" width="3" height="6" fill="#c0c0c0"/>
<rect x="664" y="407" width="3" height="6" fill="#c0c0c0"/>
<rect x="668" y="407" width="3" height="5" fill="#c0c0c0"/>
<rect x="672" y="407" width="3" height="7" fill="#c0c0c0"/>
<rect x="676" y="407" width="3" height="8" fill="#c0c0c0"/>
<rect x="680" y="407" width="3" height="9" fill="#c0c0c0"/>
<rect x="684" y="407" width="3" height="10" fill="#c0c0c0"/>
<rect x="688" y="407" width="3" height="15" fill="#c0c0c0"/>
<rect x="692" y="407" width="3" height="18" fill="#c0c0c0"/>
<rect x="696" y="407" width="3" height="19" fill="#c0c0c0"/>
<rect x="700" y="407" width="3" height="20" fill="#c0c0c0"/>
<rect x="704" y="407" width="3" height="23" fill="#c0c0c0"/>
<rect x="708" y="407" width="3" height="24" fill="#c0c0c0"/>
<rect x="712" y="407" width="3" height="24" fill="#c0c0c0"/>
<rect x="716" y="407" width="3" height="23" fill="#c0c0c0"/>
<rect x="720" y="407" width="3" height="21" fill="#c0c0c0"/>
<rect x="724" y="407" width="3" height="20" fill="#c0c0c0"/>
<rect x="728" y="407" width="3" height="19" fill="#c0c0c0"/>
<rect x="732" y="407" width="3" height="19" fill="#c0c0c0"/>
<rect x="736" y="407" width="3" height="18" fill="#c0c0c0"/>
<rect x="740" y="407" width="3" height="17" fill="#c0c0c0"/>
<rect x="744" y="407" width="3" height="17" fill="#c0c0c0"/>
<rect x="748" y="407" width="3" height="16" fill="#c0c0c0"/>
<rect x="752" y="407" width="3" height="15" fill="#c0c0c0"/>
<rect x="756" y="407" width="3" height="14" fill="#c0c0c0"/>
<rect x="760" y="407" width="3" height="14" fill="#c0c0c0"/>
<rect x="764" y="407" width="3" height="14" fill="#c0c0c0"/>
<rect x="768" y="407" width="3" height="14" fill="#c0c0c0"/>
<rect x="772" y="407" width="3" height="14" fill="#c0c0c0"/>
<rect x="776" y="407" width="3" height="14" fill="#c0c0c0"/>
<rect x="780" y="407" width="3" height="13" fill="#c0c0c0"/>
<rect x="784" y="407" width="3" height="13" fill="#c0c0c0"/>
<rect x="788" y="407" width="3" height="11" fill="#c0c0c0"/>
<rect x="792" y="407" width="3" height="10" fill="#c0c0c0"/>
<rect x="796" y="407" width="3" height="10" fill="#c0c0c0"/>
<rect x="800" y="407" width="3" height="8" fill="#c0c0c0"/>
<rect x="804" y="407" width="3" height="9" fill="#c0c0c0"/>
<rect x="808" y="407" width="3" height="10" fill="#c0c0c0"/>
<rect x="812" y="407" width="3" height="10" fill="#c0c0c0"/>
<rect x="816" y="407" width="3" height="10" fill="#c0c0c0"/>
<rect x="820" y="407" width="3" height="10" fill="#c0c0c0"/>
<rect x="824" y="407" width="3" height="10" fill="#c0c0c0"/>
<rect x="828" y="407" width="3" height="12" fill="#c0c0c0"/>
<rect x="832" y="407" width="3" height="14" fill="#c0c0c0"/>
<rect x="836" y="407" width="3" height="13" fill="#c0c0c0"/>
<rect x="840" y="407" width="3" height="11" fill="#c0c0c0"/>
<rect x="844" y="407" width="3" height="11" fill="#c0c0c0"/>
<rect x="848" y="407" width="3" height="10" fill="#c0c0c0"/>
<rect x="852" y="407" width="3" height="9" fill="#c0c0c0"/>
<rect x="856" y="407" width="3" height="9" fill="#c0c0c0"/>
<rect x="860" y="407" width="3" height="7" fill="#c0c0c0"/>
<rect x="864" y="407" width="3" height="6" fill="#c0c0c0"/>
<rect x="868" y="407" width="3" height="6" fill="#c0c0c0"/>
<rect x="872" y="407" width="3" height="6" fill="#c0c0c0"/>
<rect x="876" y="407" width="3" height="6" fill="#c0c0c0"/>
<rect x="880" y="407" width="3" height="6" fill="#c0c0c0"/>
<rect x="884" y="407" width="3" height="6" fill="#c0c0c0"/>
<rect x="888" y="407" width="3" height="5" fill="#c0c0c0"/>
<rect x="892" y="407" width="3" height="5" fill="#c0c0c0"/>
<rect x="896" y="407" width="3" height="5" fill="#c0c0c0"/>
<rect x="900" y="407" width="3" height="5" fill="#c0c0c0"/>
<rect x="904" y="407" width="3" height="5" fill="#c0c0c0"/>
<rect x="908" y="407" width="3" height="5" fill="#c0c0c0"/>
<rect x="912" y="407" width="3" height="4" fill="#c0c0c0"/>
<rect x="916" y="407" width="3" height="3" fill="#c0c0c0"/>
<rect x="920" y="407" width="3" height="1" fill="#c0c0c0"/>
<rect x="924" y="407" width="3" height="1" fill="#c0c0c0"/>
<g shape-rendering="crispEdges" fill="none" stroke-width="1" stroke-linejoin="round">
<polyline points="5,228.3 16.7,228.3 17.5,230.3 21.7,227.5 26.7,221.7 33.3,215 38.3,209 41.7,203.3 45,195 48.3,185 50,178.3 55,172.5 60,170 66.7,164 73.3,159 80,155.8 86.7,150.8 93.3,145.8 100,140.8 105,140.8 110,135 116.7,123.3 123.3,112.5 130,105.8 140,96 150,92 160,95 170.8,105 176.7,113.3 183.3,124 190,135 195,145 200,153.3 203.3,158.3 209,166.7 215,172.5 220,180.8 225,190 230,197.5 235,201.7 240,206.7 246.7,213.3 253.3,217.5 260,223.3 265,228.3 268.3,235.4 273.3,243.3 280,251.7 286.7,261.7 293.3,270.8 300,278.3 306.7,285 313.3,290 318.3,295 323.3,297.5 328.3,295.8 333.3,292.5 336.7,283.3 341.7,272.5 346.7,261.7 352.5,250.8 358.3,240.8 360,238.3 365,231.7 370,223.3 375,214 380,207.5 385,203.3 390,200 396.7,190 403.3,190 410,188.3 416.7,190 421.7,186.7 426.7,184.2 433.3,184.2 440,184.2 446.7,183 450,179.2 455,178.8 460,181.7 466.7,183 473.3,183.3 480,185 486.7,185.8 493.3,184.2 500,183 505,188.3 510,187.5 515,184.2 520,180.8 525,178.3 530,177 536.7,176.3 541.7,178 546.7,180.3 553.3,184.2 560,187.5 563.3,191 568.3,195.4 573.3,200 580,205 586.7,210.8 593.3,218.3 598.3,218.3 603.3,217.5 610,213.3 616.7,209.2 623.3,208.3 630,205.8 636.7,203.7 643.3,202.5 650,200.5 653.3,200.5 658.3,203.3 663.3,206.7 668.3,210 673.3,212.5 678.3,216.7 683.3,220.8 688.3,230 692.5,235 696.7,239.2 701.7,246.7 706.7,255 713.3,264.2 719.2,270 723.3,275.8 728.3,282.5 733.3,288 738.3,290.8 743.3,290.8 750,290 756.7,290 763.3,289.2 770,289.2 775,292.5 780,293.8 786.7,294.2 793.3,294.5 800,295.2 806.7,297.5 813.3,299.2 820,300.8 826.7,301.7 833.3,305 840,308.3 846.7,310.8 853.3,313.5 858,314.5 866.9,314.5 867.3,313.4 882.4,313.4 884,312 887.6,310.4 899.7,310.4 902.7,311.1 911.7,311.1 914.7,311.9 919.2,311.5 924.9,311.5" stroke="#ff0000" stroke-width="1"/>
<polyline points="5,212 10,215 16.7,217.5 23.3,217.8 30,216.3 36.7,215 43.3,211.7 48.3,207.5 53.3,200.8 58.3,195 60.8,193 66.7,186.7 73.3,177.5 80,170.8 86.7,166.7 93.3,160.8 100,151.7 106.7,147.5 113.3,135.8 120,127.5 126.7,120.8 133.3,119 138.3,116.7 145,110 151.7,106.3 160,100 170,100 179,105 185,110 191.7,115 195.8,122.5 200,130.8 205,138 210,143 215.8,150 220.8,159 225,166.7 229,175 235,181.7 240,187.5 243.3,193.3 248.3,199 253.3,205 258.3,209 263.3,213.3 268.3,218.3 273.3,225.8 278.3,233.3 280,235 285,243.3 290,250.8 295.8,258.3 301.7,264.7 306.7,266.7 313.3,270 318.3,275 323.3,278.3 328.3,280.8 333.3,281.3 338.3,280 345.8,277.5 351.7,271.7 358.3,263.3 365,254 371.7,245 378.3,235.8 383.3,230 390,222.5 396.7,212.5 403.3,203.3 410,195.8 413.3,193.3 420,189.2 425,187.5 433.3,186.7 440,186.3 446.7,185 451.7,181.3 456.7,181.3 463.3,182.5 471.7,183.7 480,185 488.3,184.7 496.7,183.3 505,183.7 513.3,183 518.3,180.8 523.3,178.7 527.5,179.2 531.7,182.5 538.3,183.3 546.7,183.3 553.3,185 560,186.7 565,188.3 571.7,191.5 580,194.2 583.3,195.8 590,200.8 596.7,205 603.3,208.3 611.7,208.7 620,209.2 630,208.8 640,209.2 650,209.2 660,209.2 670,208.3 678.3,208.3 684.2,209.7 686.7,213.3 690,219.2 696.7,227.5 702.5,235 708.3,241.7 715,250.8 721.7,255.8 728.3,260 735,265.8 741.7,270.8 748.3,276.7 753.3,280.8 758.3,285 763.3,288.7 770,291.7 776.7,293 783.3,293 790,292.5 796.7,292.5 803.3,292.5 808.3,294.2 815,296.7 821.7,298 828.3,300.8 835,304.2 841.7,305.8 848.3,306.7 853.3,307.3 863.9,307.2 864.5,308.1 871.8,308.5 874.8,309.2 879.3,310.4 883.1,312.2 885.4,313 902.7,313 912.5,312.2 915.5,311.5 919.2,310.5 924.9,310.5" stroke="#0000d0" stroke-width="1"/>
<polyline points="5.8,425.3 16.5,423.1 26.4,417.3 36.4,411.5 44.6,408.2 52.9,403.3 61.2,399.1 69.4,397.2 77.7,395.8 86,396.2 95.9,396.2 105.8,395 112.4,392.5 120.7,388.9 130.6,386.7 140.5,386.2 150.4,386.7 158.7,388.9 166.9,392.5 175.2,398.3 183.5,404.1 191.7,409 195,411 203.3,416.5 211.5,420.3 219.8,421.5 226.4,423.6 233,425.9 241.3,427.2 251.2,429.2 261.1,429.7 274.3,429.7 284.3,430.5 290.9,433.5 297.5,435.2 307.4,435.5 314,435.2 320.6,432.5 328.9,429.7 337.1,425.6 345.4,419.3 353.7,412.4 360.3,406.6 366.9,401.1 373.5,398.3 380.1,395.5 386.7,394.2 395,393 406.5,393 419.8,393.4 431.3,394.5 437.9,396.2 446.2,397.2 459.4,397.5 466,399.1 472.6,400.5 479.3,402.1 485.9,403.3 492.5,404.4 505.7,404.8 512.3,404.4 518.9,404.1 522.2,403.3 532.1,403.3 543.7,403.4 550.3,404.4 555.3,406.6 561.9,408.2 568.5,411 575.1,412.7 581.7,414 585,414.3 591.6,415.7 604.8,415.3 614.8,414 624.7,411 632.9,408.2 641.2,407.4 651.1,408.2 661,409.6 671,410.7 680.9,412 687.5,412.7 694.1,415.3 700.7,418.1 707.3,421 713.9,423.9 720.5,426.4 727.1,427.6 733.8,427.6 740.4,425.9 747,425.3 755.2,423.1 763.5,422 771.8,420.6 780,420.3 789.9,419 799.8,417.3 804.8,416.2 814.7,415.7 829.6,415.7 834.5,416.5 839.5,416.5 842.8,417.3 851.1,417.3 856,416.5 862.6,416.2 867.6,414.8 874.2,414.3 879.2,412.7 885.8,412.4 889.1,411.2 895.7,411.2 918.8,411.2 920.5,410.4 924.6,410.4" stroke="#ff0000" stroke-width="1"/>
<polyline points="5,476.4 11.6,476.7 17.4,479.2 21.5,471.4 24.8,472.6 29.8,477.5 34.7,476.4 39.7,474.7 44.6,471.8 49.3,466.5 52.9,471.8 57.9,475.1 62,477.2 65.3,475.6 74.4,475.6 77.7,477.5 81.8,474.7 89.3,474.2 93.4,472.2 97.5,471.4 101.7,468.1 105.8,470.4 109.1,466 113.2,466.5 117.7,469.3 121.5,467.3 125.6,471.4 129.8,474.7 135.5,472.6 140.5,471.4 145.5,474.2 150.4,475.9 157,479.7 161.2,478.4 165.3,482 171.9,485.5 176.9,484.5 181.8,486.6 185.1,488.3 189.3,485.3 193.4,487 197.5,489.4 201.6,486.3 205.7,486.3 209.9,482.2 213.5,482.2 217.3,485.8 221.4,492.4 225.6,491.3 229.7,489.4 233.8,483.3 238,484.6 241.3,485.3 245.4,485.5 249.2,487.5 253.7,483.3 257.5,484.5 261.1,483.3 265.2,487 268.6,487.9 273.5,491.1 277.6,492.4 281,493.6 285.1,491.3 289.2,488.6 293.3,487 297.5,483.3 301.6,485.3 305.4,485.3 309.9,482.2 313.7,484.5 317.3,484.5 321.4,482.2 325.6,479.7 329.7,479.2 333.8,472.1 338,470.1 342.1,469.3 346.2,468.1 350.4,467.1 354.5,466.5 357.8,468.4 361.9,471.4 370.2,471.4 375.2,469.8 381,469.3 385.1,472.2 389.2,469.3 392.5,470.1 397.4,467.6 401.6,470.4 405.7,472.2 409.5,471.4 413.6,477.2 417.8,475.9 421.7,474.2 425.5,469.8 429.7,472.6 433.5,477.2 437.1,475.6 442.1,475.6 445.4,474.2 449.5,466.5 453.6,473.4 457.4,480.3 461.1,478.4 465.2,479.5 477.6,479.5 481.7,476.4 485,474.6 490,474.6 494.1,476.4 499.1,476.4 501.6,477.2 505.7,477.2 509.8,473.4 513.6,475.4 518.1,471.4 522.2,472.6 525.5,476.7 529.7,480.3 533.5,480.3 537.6,476.7 541.2,481.3 544.5,480.3 549.5,483.3 555.3,483.3 561.1,486.3 566,481.7 570.2,479.5 576.8,481.2 581.7,484.5 585.9,483.3 589.1,484.6 593.3,487 597.4,479.7 601.5,475.1 605.7,472.2 609.5,471.4 613.4,475.1 617.7,477.2 622.2,477.2 625.5,478.4 629.6,475.1 633.3,473.1 637.6,481.3 641.7,484.5 645.8,480.3 649.5,480.3 653.6,478.4 657.7,479.5 661.5,481.3 665.7,477.2 669.6,478.4 673.4,484.5 677.6,482.2 683.3,482.2 685.8,484.5 689.5,491.6 693.3,487.5 697.4,486.3 701.5,488.3 709,488.6 713.6,484.5 717.2,485.8 721.4,480.3 725.5,483.3 729.6,481.3 733.8,483.3 741.2,481.3 745.3,483.3 749.1,484.6 753.6,480.3 757.7,482.5 761.9,484.5 765.2,484.5 769.3,481.3 773.4,485.5 777.6,483.3 781.7,480.5 783.3,480.3 789.1,480.3 793.2,478 797.4,480.3 801.5,477.2 805.6,481.3 809.8,485.8 813.9,484.5 818.8,484.5 823,483.3 827.1,483.3 830.4,485.8 833.7,490.4 837.5,479.5 842.8,479.5 846.1,480.5 850.2,480.5 854.4,479.2 857.7,478.4 861.8,476.2 865.9,477.2 870.1,479.5 879.2,479.5 881.7,480.5 887.4,480.5 893.2,482.5 897.4,479.5 901.5,483.3 905.6,480.5 909.8,479.2 913.9,478 917.5,472.6 921.3,475.4 925,476.4" stroke="#1e90ff" stroke-width="1"/>
</g>
<rect x="5" y="125" width="1162" height="2" fill="#ff0000"/>
<rect x="5" y="189" width="1162" height="2" fill="#ff0000"/>
<rect x="5" y="247" width="1162" height="2" fill="#00ff00"/>
<rect x="5" y="315" width="1162" height="2" fill="#0000ff"/>
<rect x="5" y="365" width="1162" height="2" fill="#0000ff"/>
<rect x="5" y="195" width="1" height="33" fill="#ff0000"/>
<rect x="4" y="201" width="3" height="5" fill="#ff0000"/>
<rect x="5" y="202" width="1" height="3" fill="#ff4500"/>
<rect x="9" y="184" width="1" height="35" fill="#ff0000"/>
<rect x="8" y="200" width="3" height="19" fill="#ff0000"/>
<rect x="9" y="201" width="1" height="17" fill="#ff4500"/>
<rect x="13" y="186" width="1" height="29" fill="#25c425"/>
<rect x="12" y="199" width="3" height="11" fill="#25c425"/>
<rect x="13" y="200" width="1" height="9" fill="#35cf35"/>
<rect x="17" y="198" width="1" height="33" fill="#25c425"/>
<rect x="16" y="207" width="3" height="15" fill="#25c425"/>
<rect x="17" y="208" width="1" height="13" fill="#35cf35"/>
<rect x="21" y="154" width="1" height="72" fill="#ff0000"/>
<rect x="20" y="154" width="3" height="67" fill="#ff0000"/>
<rect x="21" y="155" width="1" height="65" fill="#ff4500"/>
<rect x="25" y="144" width="1" height="56" fill="#25c425"/>
<rect x="24" y="155" width="3" height="18" fill="#25c425"/>
<rect x="25" y="156" width="1" height="16" fill="#35cf35"/>
<rect x="29" y="182" width="1" height="18" fill="#25c425"/>
<rect x="28" y="189" width="3" height="10" fill="#25c425"/>
<rect x="29" y="190" width="1" height="8" fill="#35cf35"/>
<rect x="33" y="175" width="1" height="27" fill="#ff0000"/>
<rect x="32" y="187" width="3" height="12" fill="#ff0000"/>
<rect x="33" y="188" width="1" height="10" fill="#ff4500"/>
<rect x="37" y="178" width="1" height="31" fill="#ff0000"/>
<rect x="36" y="178" width="3" height="11" fill="#ff0000"/>
<rect x="37" y="179" width="1" height="9" fill="#ff4500"/>
<rect x="41" y="163" width="1" height="30" fill="#ff0000"/>
<rect x="40" y="167" width="3" height="13" fill="#ff0000"/>
<rect x="41" y="168" width="1" height="11" fill="#ff4500"/>
<rect x="45" y="118" width="1" height="64" fill="#ff0000"/>
<rect x="44" y="136" width="3" height="32" fill="#ff0000"/>
<rect x="45" y="137" width="1" height="30" fill="#ff4500"/>
<rect x="49" y="100" width="1" height="48" fill="#ff0000"/>
<rect x="48" y="100" width="3" height="45" fill="#ff0000"/>
<rect x="49" y="101" width="1" height="43" fill="#ff4500"/>
<rect x="53" y="100" width="1" height="42" fill="#25c425"/>
<rect x="52" y="100" width="3" height="32" fill="#25c425"/>
<rect x="53" y="101" width="1" height="30" fill="#35cf35"/>
<rect x="57" y="118" width="1" height="47" fill="#25c425"/>
<rect x="56" y="129" width="3" height="28" fill="#25c425"/>
<rect x="57" y="130" width="1" height="26" fill="#35cf35"/>
<rect x="61" y="148" width="1" height="38" fill="#25c425"/>
<rect x="60" y="154" width="3" height="25" fill="#25c425"/>
<rect x="61" y="155" width="1" height="23" fill="#35cf35"/>
<rect x="65" y="136" width="1" height="50" fill="#ff0000"/>
<rect x="64" y="155" width="3" height="23" fill="#ff0000"/>
<rect x="65" y="156" width="1" height="21" fill="#ff4500"/>
<rect x="69" y="133" width="1" height="32" fill="#ff0000"/>
<rect x="68" y="156" width="3" height="3" fill="#ff0000"/>
<rect x="69" y="157" width="1" height="1" fill="#ff4500"/>
<rect x="73" y="147" width="1" height="18" fill="#ff0000"/>
<rect x="72" y="154" width="3" height="4" fill="#ff0000"/>
<rect x="73" y="155" width="1" height="2" fill="#ff4500"/>
<rect x="77" y="141" width="1" height="34" fill="#25c425"/>
<rect x="76" y="154" width="3" height="17" fill="#25c425"/>
<rect x="77" y="155" width="1" height="15" fill="#35cf35"/>
<rect x="81" y="136" width="1" height="36" fill="#ff0000"/>
<rect x="80" y="144" width="3" height="27" fill="#ff0000"/>
<rect x="81" y="145" width="1" height="25" fill="#ff4500"/>
<rect x="85" y="126" width="1" height="25" fill="#25c425"/>
<rect x="84" y="144" width="3" height="3" fill="#25c425"/>
<rect x="85" y="145" width="1" height="1" fill="#35cf35"/>
<rect x="89" y="133" width="1" height="20" fill="#25c425"/>
<rect x="88" y="137" width="3" height="10" fill="#25c425"/>
<rect x="89" y="138" width="1" height="8" fill="#35cf35"/>
<rect x="93" y="124" width="1" height="28" fill="#ff0000"/>
<rect x="92" y="125" width="3" height="21" fill="#ff0000"/>
<rect x="93" y="126" width="1" height="19" fill="#ff4500"/>
<rect x="97" y="116" width="1" height="17" fill="#ff0000"/>
<rect x="96" y="117" width="3" height="10" fill="#ff0000"/>
<rect x="97" y="118" width="1" height="8" fill="#ff4500"/>
<rect x="101" y="100" width="1" height="24" fill="#ff0000"/>
<rect x="100" y="100" width="3" height="18" fill="#ff0000"/>
<rect x="101" y="101" width="1" height="16" fill="#ff4500"/>
<rect x="105" y="95" width="1" height="12" fill="#25c425"/>
<rect x="104" y="96" width="3" height="5" fill="#25c425"/>
<rect x="105" y="97" width="1" height="3" fill="#35cf35"/>
<rect x="129" y="90" width="1" height="17" fill="#25c425"/>
<rect x="128" y="92" width="3" height="7" fill="#25c425"/>
<rect x="129" y="93" width="1" height="5" fill="#35cf35"/>
<rect x="133" y="90" width="1" height="16" fill="#ff0000"/>
<rect x="132" y="92" width="3" height="7" fill="#ff0000"/>
<rect x="133" y="93" width="1" height="5" fill="#ff4500"/>
<rect x="153" y="95" width="1" height="28" fill="#25c425"/>
<rect x="152" y="98" width="3" height="17" fill="#25c425"/>
<rect x="153" y="99" width="1" height="15" fill="#35cf35"/>
<rect x="157" y="100" width="1" height="28" fill="#25c425"/>
<rect x="156" y="111" width="3" height="11" fill="#25c425"/>
<rect x="157" y="112" width="1" height="9" fill="#35cf35"/>
<rect x="161" y="107" width="1" height="23" fill="#ff0000"/>
<rect x="160" y="119" width="3" height="4" fill="#ff0000"/>
<rect x="161" y="120" width="1" height="2" fill="#ff4500"/>
<rect x="165" y="110" width="1" height="42" fill="#25c425"/>
<rect x="164" y="119" width="3" height="26" fill="#25c425"/>
<rect x="165" y="120" width="1" height="24" fill="#35cf35"/>
<rect x="169" y="140" width="1" height="31" fill="#25c425"/>
<rect x="168" y="143" width="3" height="12" fill="#25c425"/>
<rect x="169" y="144" width="1" height="10" fill="#35cf35"/>
<rect x="173" y="151" width="1" height="21" fill="#25c425"/>
<rect x="172" y="152" width="3" height="14" fill="#25c425"/>
<rect x="173" y="153" width="1" height="12" fill="#35cf35"/>
<rect x="177" y="155" width="1" height="26" fill="#ff0000"/>
<rect x="176" y="160" width="3" height="6" fill="#ff0000"/>
<rect x="177" y="161" width="1" height="4" fill="#ff4500"/>
<rect x="181" y="156" width="1" height="17" fill="#25c425"/>
<rect x="180" y="159" width="3" height="10" fill="#25c425"/>
<rect x="181" y="160" width="1" height="8" fill="#35cf35"/>
<rect x="185" y="166" width="1" height="27" fill="#25c425"/>
<rect x="184" y="169" width="3" height="19" fill="#25c425"/>
<rect x="185" y="170" width="1" height="17" fill="#35cf35"/>
<rect x="189" y="172" width="1" height="17" fill="#ff0000"/>
<rect x="188" y="176" width="3" height="11" fill="#ff0000"/>
<rect x="189" y="177" width="1" height="9" fill="#ff4500"/>
<rect x="193" y="170" width="1" height="26" fill="#25c425"/>
<rect x="192" y="175" width="3" height="13" fill="#25c425"/>
<rect x="193" y="176" width="1" height="11" fill="#35cf35"/>
<rect x="197" y="187" width="1" height="18" fill="#25c425"/>
<rect x="196" y="187" width="3" height="14" fill="#25c425"/>
<rect x="197" y="188" width="1" height="12" fill="#35cf35"/>
<rect x="201" y="187" width="1" height="17" fill="#ff0000"/>
<rect x="200" y="188" width="3" height="14" fill="#ff0000"/>
<rect x="201" y="189" width="1" height="12" fill="#ff4500"/>
<rect x="205" y="175" width="1" height="21" fill="#25c425"/>
<rect x="204" y="189" width="3" height="3" fill="#25c425"/>
<rect x="205" y="190" width="1" height="1" fill="#35cf35"/>
<rect x="209" y="165" width="1" height="28" fill="#ff0000"/>
<rect x="208" y="175" width="3" height="18" fill="#ff0000"/>
<rect x="209" y="176" width="1" height="16" fill="#ff4500"/>
<rect x="213" y="163" width="1" height="20" fill="#ff0000"/>
<rect x="212" y="172" width="3" height="5" fill="#ff0000"/>
<rect x="213" y="173" width="1" height="3" fill="#ff4500"/>
<rect x="217" y="171" width="1" height="31" fill="#25c425"/>
<rect x="216" y="174" width="3" height="24" fill="#25c425"/>
<rect x="217" y="175" width="1" height="22" fill="#35cf35"/>
<rect x="221" y="195" width="1" height="67" fill="#25c425"/>
<rect x="220" y="197" width="3" height="61" fill="#25c425"/>
<rect x="221" y="198" width="1" height="59" fill="#35cf35"/>
<rect x="225" y="242" width="1" height="35" fill="#ff0000"/>
<rect x="224" y="253" width="3" height="10" fill="#ff0000"/>
<rect x="225" y="254" width="1" height="8" fill="#ff4500"/>
<rect x="229" y="239" width="1" height="23" fill="#ff0000"/>
<rect x="228" y="244" width="3" height="11" fill="#ff0000"/>
<rect x="229" y="245" width="1" height="9" fill="#ff4500"/>
<rect x="233" y="202" width="1" height="49" fill="#ff0000"/>
<rect x="232" y="210" width="3" height="35" fill="#ff0000"/>
<rect x="233" y="211" width="1" height="33" fill="#ff4500"/>
<rect x="237" y="204" width="1" height="22" fill="#25c425"/>
<rect x="236" y="210" width="3" height="10" fill="#25c425"/>
<rect x="237" y="211" width="1" height="8" fill="#35cf35"/>
<rect x="241" y="215" width="1" height="27" fill="#25c425"/>
<rect x="240" y="217" width="3" height="16" fill="#25c425"/>
<rect x="241" y="218" width="1" height="14" fill="#35cf35"/>
<rect x="245" y="217" width="1" height="16" fill="#ff0000"/>
<rect x="244" y="227" width="3" height="5" fill="#ff0000"/>
<rect x="245" y="228" width="1" height="3" fill="#ff4500"/>
<rect x="249" y="226" width="1" height="32" fill="#25c425"/>
<rect x="248" y="228" width="3" height="22" fill="#25c425"/>
<rect x="249" y="229" width="1" height="20" fill="#35cf35"/>
<rect x="253" y="228" width="1" height="26" fill="#ff0000"/>
<rect x="252" y="228" width="3" height="22" fill="#ff0000"/>
<rect x="253" y="229" width="1" height="20" fill="#ff4500"/>
<rect x="257" y="227" width="1" height="16" fill="#25c425"/>
<rect x="256" y="228" width="3" height="11" fill="#25c425"/>
<rect x="257" y="229" width="1" height="9" fill="#35cf35"/>
<rect x="261" y="225" width="1" height="22" fill="#ff0000"/>
<rect x="260" y="234" width="3" height="5" fill="#ff0000"/>
<rect x="261" y="235" width="1" height="3" fill="#ff4500"/>
<rect x="265" y="228" width="1" height="43" fill="#25c425"/>
<rect x="264" y="235" width="3" height="30" fill="#25c425"/>
<rect x="265" y="236" width="1" height="28" fill="#35cf35"/>
<rect x="269" y="261" width="1" height="31" fill="#25c425"/>
<rect x="268" y="263" width="3" height="6" fill="#25c425"/>
<rect x="269" y="264" width="1" height="4" fill="#35cf35"/>
<rect x="273" y="267" width="1" height="44" fill="#25c425"/>
<rect x="272" y="267" width="3" height="31" fill="#25c425"/>
<rect x="273" y="268" width="1" height="29" fill="#35cf35"/>
<rect x="277" y="289" width="1" height="34" fill="#25c425"/>
<rect x="276" y="297" width="3" height="12" fill="#25c425"/>
<rect x="277" y="298" width="1" height="10" fill="#35cf35"/>
<rect x="281" y="303" width="1" height="31" fill="#25c425"/>
<rect x="280" y="307" width="3" height="25" fill="#25c425"/>
<rect x="281" y="308" width="1" height="23" fill="#35cf35"/>
<rect x="285" y="312" width="1" height="30" fill="#25c425"/>
<rect x="284" y="318" width="3" height="4" fill="#25c425"/>
<rect x="285" y="319" width="1" height="2" fill="#35cf35"/>
<rect x="289" y="298" width="1" height="34" fill="#ff0000"/>
<rect x="288" y="303" width="3" height="19" fill="#ff0000"/>
<rect x="289" y="304" width="1" height="17" fill="#ff4500"/>
<rect x="293" y="291" width="1" height="20" fill="#ff0000"/>
<rect x="292" y="301" width="3" height="4" fill="#ff0000"/>
<rect x="293" y="302" width="1" height="2" fill="#ff4500"/>
<rect x="297" y="280" width="1" height="28" fill="#ff0000"/>
<rect x="296" y="281" width="3" height="22" fill="#ff0000"/>
<rect x="297" y="282" width="1" height="20" fill="#ff4500"/>
<rect x="301" y="267" width="1" height="34" fill="#25c425"/>
<rect x="300" y="281" width="3" height="14" fill="#25c425"/>
<rect x="301" y="282" width="1" height="12" fill="#35cf35"/>
<rect x="305" y="281" width="1" height="21" fill="#25c425"/>
<rect x="304" y="290" width="3" height="7" fill="#25c425"/>
<rect x="305" y="291" width="1" height="5" fill="#35cf35"/>
<rect x="309" y="278" width="1" height="22" fill="#ff0000"/>
<rect x="308" y="279" width="3" height="18" fill="#ff0000"/>
<rect x="309" y="280" width="1" height="16" fill="#ff4500"/>
<rect x="313" y="279" width="1" height="25" fill="#25c425"/>
<rect x="312" y="279" width="3" height="17" fill="#25c425"/>
<rect x="313" y="280" width="1" height="15" fill="#35cf35"/>
<rect x="317" y="287" width="1" height="22" fill="#25c425"/>
<rect x="316" y="295" width="3" height="6" fill="#25c425"/>
<rect x="317" y="296" width="1" height="4" fill="#35cf35"/>
<rect x="321" y="280" width="1" height="27" fill="#ff0000"/>
<rect x="320" y="287" width="3" height="14" fill="#ff0000"/>
<rect x="321" y="288" width="1" height="12" fill="#ff4500"/>
<rect x="325" y="255" width="1" height="32" fill="#ff0000"/>
<rect x="324" y="269" width="3" height="18" fill="#ff0000"/>
<rect x="325" y="270" width="1" height="16" fill="#ff4500"/>
<rect x="329" y="267" width="1" height="13" fill="#25c425"/>
<rect x="328" y="269" width="3" height="4" fill="#25c425"/>
<rect x="329" y="270" width="1" height="2" fill="#35cf35"/>
<rect x="333" y="227" width="1" height="67" fill="#ff0000"/>
<rect x="332" y="231" width="3" height="42" fill="#ff0000"/>
<rect x="333" y="232" width="1" height="40" fill="#ff4500"/>
<rect x="337" y="198" width="1" height="56" fill="#ff0000"/>
<rect x="336" y="214" width="3" height="19" fill="#ff0000"/>
<rect x="337" y="215" width="1" height="17" fill="#ff4500"/>
<rect x="341" y="200" width="1" height="29" fill="#ff0000"/>
<rect x="340" y="208" width="3" height="8" fill="#ff0000"/>
<rect x="341" y="209" width="1" height="6" fill="#ff4500"/>
<rect x="345" y="179" width="1" height="38" fill="#ff0000"/>
<rect x="344" y="195" width="3" height="18" fill="#ff0000"/>
<rect x="345" y="196" width="1" height="16" fill="#ff4500"/>
<rect x="349" y="172" width="1" height="30" fill="#ff0000"/>
<rect x="348" y="184" width="3" height="12" fill="#ff0000"/>
<rect x="349" y="185" width="1" height="10" fill="#ff4500"/>
<rect x="353" y="161" width="1" height="30" fill="#ff0000"/>
<rect x="352" y="181" width="3" height="5" fill="#ff0000"/>
<rect x="353" y="182" width="1" height="3" fill="#ff4500"/>
<rect x="357" y="172" width="1" height="26" fill="#25c425"/>
<rect x="356" y="181" width="3" height="12" fill="#25c425"/>
<rect x="357" y="182" width="1" height="10" fill="#35cf35"/>
<rect x="361" y="189" width="1" height="27" fill="#25c425"/>
<rect x="360" y="190" width="3" height="13" fill="#25c425"/>
<rect x="361" y="191" width="1" height="11" fill="#35cf35"/>
<rect x="365" y="193" width="1" height="16" fill="#ff0000"/>
<rect x="364" y="203" width="3" height="5" fill="#ff0000"/>
<rect x="365" y="204" width="1" height="3" fill="#ff4500"/>
<rect x="369" y="191" width="1" height="19" fill="#ff0000"/>
<rect x="368" y="198" width="3" height="6" fill="#ff0000"/>
<rect x="369" y="199" width="1" height="4" fill="#ff4500"/>
<rect x="373" y="192" width="1" height="16" fill="#ff0000"/>
<rect x="372" y="194" width="3" height="5" fill="#ff0000"/>
<rect x="373" y="195" width="1" height="3" fill="#ff4500"/>
<rect x="377" y="185" width="1" height="18" fill="#ff0000"/>
<rect x="376" y="187" width="3" height="9" fill="#ff0000"/>
<rect x="377" y="188" width="1" height="7" fill="#ff4500"/>
<rect x="381" y="166" width="1" height="29" fill="#25c425"/>
<rect x="380" y="187" width="3" height="4" fill="#25c425"/>
<rect x="381" y="188" width="1" height="2" fill="#35cf35"/>
<rect x="385" y="185" width="1" height="22" fill="#25c425"/>
<rect x="384" y="189" width="3" height="13" fill="#25c425"/>
<rect x="385" y="190" width="1" height="11" fill="#35cf35"/>
<rect x="389" y="172" width="1" height="35" fill="#ff0000"/>
<rect x="388" y="182" width="3" height="18" fill="#ff0000"/>
<rect x="389" y="183" width="1" height="16" fill="#ff4500"/>
<rect x="393" y="175" width="1" height="24" fill="#25c425"/>
<rect x="392" y="181" width="3" height="7" fill="#25c425"/>
<rect x="393" y="182" width="1" height="5" fill="#35cf35"/>
<rect x="397" y="154" width="1" height="36" fill="#ff0000"/>
<rect x="396" y="166" width="3" height="22" fill="#ff0000"/>
<rect x="397" y="167" width="1" height="20" fill="#ff4500"/>
<rect x="401" y="154" width="1" height="24" fill="#25c425"/>
<rect x="400" y="166" width="3" height="11" fill="#25c425"/>
<rect x="401" y="167" width="1" height="9" fill="#35cf35"/>
<rect x="405" y="176" width="1" height="14" fill="#25c425"/>
<rect x="404" y="181" width="3" height="5" fill="#25c425"/>
<rect x="405" y="182" width="1" height="3" fill="#35cf35"/>
<rect x="409" y="176" width="1" height="20" fill="#ff0000"/>
<rect x="408" y="178" width="3" height="8" fill="#ff0000"/>
<rect x="409" y="179" width="1" height="6" fill="#ff4500"/>
<rect x="413" y="174" width="1" height="44" fill="#25c425"/>
<rect x="412" y="178" width="3" height="24" fill="#25c425"/>
<rect x="413" y="179" width="1" height="22" fill="#35cf35"/>
<rect x="417" y="193" width="1" height="18" fill="#ff0000"/>
<rect x="416" y="199" width="3" height="4" fill="#ff0000"/>
<rect x="417" y="200" width="1" height="2" fill="#ff4500"/>
<rect x="421" y="176" width="1" height="31" fill="#ff0000"/>
<rect x="420" y="187" width="3" height="14" fill="#ff0000"/>
<rect x="421" y="188" width="1" height="12" fill="#ff4500"/>
<rect x="425" y="157" width="1" height="29" fill="#ff0000"/>
<rect x="424" y="161" width="3" height="23" fill="#ff0000"/>
<rect x="425" y="162" width="1" height="21" fill="#ff4500"/>
<rect x="429" y="159" width="1" height="21" fill="#25c425"/>
<rect x="428" y="161" width="3" height="14" fill="#25c425"/>
<rect x="429" y="162" width="1" height="12" fill="#35cf35"/>
<rect x="433" y="171" width="1" height="36" fill="#25c425"/>
<rect x="432" y="173" width="3" height="26" fill="#25c425"/>
<rect x="433" y="174" width="1" height="24" fill="#35cf35"/>
<rect x="437" y="182" width="1" height="20" fill="#ff0000"/>
<rect x="436" y="186" width="3" height="14" fill="#ff0000"/>
<rect x="437" y="187" width="1" height="12" fill="#ff4500"/>
<rect x="441" y="171" width="1" height="23" fill="#ff0000"/>
<rect x="440" y="186" width="3" height="3" fill="#ff0000"/>
<rect x="441" y="187" width="1" height="1" fill="#ff4500"/>
<rect x="445" y="161" width="1" height="25" fill="#ff0000"/>
<rect x="444" y="178" width="3" height="7" fill="#ff0000"/>
<rect x="445" y="179" width="1" height="5" fill="#ff4500"/>
<rect x="449" y="118" width="1" height="66" fill="#ff0000"/>
<rect x="448" y="126" width="3" height="52" fill="#ff0000"/>
<rect x="449" y="127" width="1" height="50" fill="#ff4500"/>
<rect x="453" y="126" width="1" height="51" fill="#25c425"/>
<rect x="452" y="126" width="3" height="44" fill="#25c425"/>
<rect x="453" y="127" width="1" height="42" fill="#35cf35"/>
<rect x="457" y="163" width="1" height="48" fill="#25c425"/>
<rect x="456" y="169" width="3" height="38" fill="#25c425"/>
<rect x="457" y="170" width="1" height="36" fill="#35cf35"/>
<rect x="461" y="188" width="1" height="30" fill="#ff0000"/>
<rect x="460" y="197" width="3" height="10" fill="#ff0000"/>
<rect x="461" y="198" width="1" height="8" fill="#ff4500"/>
<rect x="465" y="189" width="1" height="18" fill="#25c425"/>
<rect x="464" y="197" width="3" height="5" fill="#25c425"/>
<rect x="465" y="198" width="1" height="3" fill="#35cf35"/>
<rect x="469" y="193" width="1" height="13" fill="#ff0000"/>
<rect x="468" y="198" width="3" height="3" fill="#ff0000"/>
<rect x="469" y="199" width="1" height="1" fill="#ff4500"/>
<rect x="473" y="195" width="1" height="20" fill="#25c425"/>
<rect x="472" y="198" width="3" height="4" fill="#25c425"/>
<rect x="473" y="199" width="1" height="2" fill="#35cf35"/>
<rect x="477" y="198" width="1" height="15" fill="#25c425"/>
<rect x="476" y="201" width="3" height="4" fill="#25c425"/>
<rect x="477" y="202" width="1" height="2" fill="#35cf35"/>
<rect x="481" y="174" width="1" height="32" fill="#ff0000"/>
<rect x="480" y="181" width="3" height="24" fill="#ff0000"/>
<rect x="481" y="182" width="1" height="22" fill="#ff4500"/>
<rect x="485" y="169" width="1" height="19" fill="#ff0000"/>
<rect x="484" y="173" width="3" height="4" fill="#ff0000"/>
<rect x="485" y="174" width="1" height="2" fill="#ff4500"/>
<rect x="489" y="168" width="1" height="13" fill="#ff0000"/>
<rect x="488" y="171" width="3" height="5" fill="#ff0000"/>
<rect x="489" y="172" width="1" height="3" fill="#ff4500"/>
<rect x="493" y="163" width="1" height="26" fill="#25c425"/>
<rect x="492" y="170" width="3" height="15" fill="#25c425"/>
<rect x="493" y="171" width="1" height="13" fill="#35cf35"/>
<rect x="497" y="177" width="1" height="11" fill="#ff0000"/>
<rect x="496" y="182" width="3" height="3" fill="#ff0000"/>
<rect x="497" y="183" width="1" height="1" fill="#ff4500"/>
<rect x="501" y="172" width="1" height="15" fill="#25c425"/>
<rect x="500" y="181" width="3" height="5" fill="#25c425"/>
<rect x="501" y="182" width="1" height="3" fill="#35cf35"/>
<rect x="505" y="177" width="1" height="13" fill="#25c425"/>
<rect x="504" y="179" width="3" height="7" fill="#25c425"/>
<rect x="505" y="180" width="1" height="5" fill="#35cf35"/>
<rect x="509" y="158" width="1" height="29" fill="#ff0000"/>
<rect x="508" y="164" width="3" height="22" fill="#ff0000"/>
<rect x="509" y="165" width="1" height="20" fill="#ff4500"/>
<rect x="513" y="162" width="1" height="18" fill="#25c425"/>
<rect x="512" y="164" width="3" height="9" fill="#25c425"/>
<rect x="513" y="165" width="1" height="7" fill="#35cf35"/>
<rect x="517" y="149" width="1" height="25" fill="#ff0000"/>
<rect x="516" y="155" width="3" height="19" fill="#ff0000"/>
<rect x="517" y="156" width="1" height="17" fill="#ff4500"/>
<rect x="521" y="141" width="1" height="20" fill="#25c425"/>
<rect x="520" y="155" width="3" height="2" fill="#25c425"/>
<rect x="525" y="153" width="1" height="34" fill="#25c425"/>
<rect x="524" y="154" width="3" height="29" fill="#25c425"/>
<rect x="525" y="155" width="1" height="27" fill="#35cf35"/>
<rect x="529" y="172" width="1" height="27" fill="#25c425"/>
<rect x="528" y="180" width="3" height="13" fill="#25c425"/>
<rect x="529" y="181" width="1" height="11" fill="#35cf35"/>
<rect x="533" y="181" width="1" height="16" fill="#ff0000"/>
<rect x="532" y="191" width="3" height="3" fill="#ff0000"/>
<rect x="533" y="192" width="1" height="1" fill="#ff4500"/>
<rect x="537" y="173" width="1" height="20" fill="#ff0000"/>
<rect x="536" y="176" width="3" height="17" fill="#ff0000"/>
<rect x="537" y="177" width="1" height="15" fill="#ff4500"/>
<rect x="541" y="172" width="1" height="35" fill="#25c425"/>
<rect x="540" y="176" width="3" height="27" fill="#25c425"/>
<rect x="541" y="177" width="1" height="25" fill="#35cf35"/>
<rect x="545" y="193" width="1" height="11" fill="#ff0000"/>
<rect x="544" y="197" width="3" height="5" fill="#ff0000"/>
<rect x="545" y="198" width="1" height="3" fill="#ff4500"/>
<rect x="549" y="189" width="1" height="33" fill="#25c425"/>
<rect x="548" y="197" width="3" height="17" fill="#25c425"/>
<rect x="549" y="198" width="1" height="15" fill="#35cf35"/>
<rect x="553" y="199" width="1" height="24" fill="#25c425"/>
<rect x="552" y="212" width="3" height="5" fill="#25c425"/>
<rect x="553" y="213" width="1" height="3" fill="#35cf35"/>
<rect x="557" y="206" width="1" height="17" fill="#25c425"/>
<rect x="556" y="215" width="3" height="5" fill="#25c425"/>
<rect x="557" y="216" width="1" height="3" fill="#35cf35"/>
<rect x="561" y="208" width="1" height="43" fill="#25c425"/>
<rect x="560" y="218" width="3" height="15" fill="#25c425"/>
<rect x="561" y="219" width="1" height="13" fill="#35cf35"/>
<rect x="565" y="211" width="1" height="22" fill="#ff0000"/>
<rect x="564" y="218" width="3" height="15" fill="#ff0000"/>
<rect x="565" y="219" width="1" height="13" fill="#ff4500"/>
<rect x="569" y="198" width="1" height="24" fill="#ff0000"/>
<rect x="568" y="203" width="3" height="17" fill="#ff0000"/>
<rect x="569" y="204" width="1" height="15" fill="#ff4500"/>
<rect x="573" y="200" width="1" height="16" fill="#25c425"/>
<rect x="572" y="203" width="3" height="5" fill="#25c425"/>
<rect x="573" y="204" width="1" height="3" fill="#35cf35"/>
<rect x="577" y="202" width="1" height="22" fill="#25c425"/>
<rect x="576" y="206" width="3" height="11" fill="#25c425"/>
<rect x="577" y="207" width="1" height="9" fill="#35cf35"/>
<rect x="581" y="211" width="1" height="37" fill="#25c425"/>
<rect x="580" y="215" width="3" height="13" fill="#25c425"/>
<rect x="581" y="216" width="1" height="11" fill="#35cf35"/>
<rect x="585" y="212" width="1" height="19" fill="#ff0000"/>
<rect x="584" y="226" width="3" height="5" fill="#ff0000"/>
<rect x="585" y="227" width="1" height="3" fill="#ff4500"/>
<rect x="589" y="220" width="1" height="23" fill="#25c425"/>
<rect x="588" y="226" width="3" height="9" fill="#25c425"/>
<rect x="589" y="227" width="1" height="7" fill="#35cf35"/>
<rect x="593" y="225" width="1" height="26" fill="#25c425"/>
<rect x="592" y="233" width="3" height="13" fill="#25c425"/>
<rect x="593" y="234" width="1" height="11" fill="#35cf35"/>
<rect x="597" y="211" width="1" height="36" fill="#ff0000"/>
<rect x="596" y="213" width="3" height="33" fill="#ff0000"/>
<rect x="597" y="214" width="1" height="31" fill="#ff4500"/>
<rect x="601" y="191" width="1" height="35" fill="#ff0000"/>
<rect x="600" y="192" width="3" height="22" fill="#ff0000"/>
<rect x="601" y="193" width="1" height="20" fill="#ff4500"/>
<rect x="605" y="169" width="1" height="24" fill="#ff0000"/>
<rect x="604" y="178" width="3" height="11" fill="#ff0000"/>
<rect x="605" y="179" width="1" height="9" fill="#ff4500"/>
<rect x="609" y="170" width="1" height="20" fill="#ff0000"/>
<rect x="608" y="174" width="3" height="4" fill="#ff0000"/>
<rect x="609" y="175" width="1" height="2" fill="#ff4500"/>
<rect x="613" y="170" width="1" height="45" fill="#25c425"/>
<rect x="612" y="174" width="3" height="19" fill="#25c425"/>
<rect x="613" y="175" width="1" height="17" fill="#35cf35"/>
<rect x="617" y="186" width="1" height="30" fill="#25c425"/>
<rect x="616" y="191" width="3" height="12" fill="#25c425"/>
<rect x="617" y="192" width="1" height="10" fill="#35cf35"/>
<rect x="621" y="188" width="1" height="22" fill="#ff0000"/>
<rect x="620" y="199" width="3" height="4" fill="#ff0000"/>
<rect x="621" y="200" width="1" height="2" fill="#ff4500"/>
<rect x="625" y="193" width="1" height="22" fill="#25c425"/>
<rect x="624" y="203" width="3" height="4" fill="#25c425"/>
<rect x="625" y="204" width="1" height="2" fill="#35cf35"/>
<rect x="629" y="189" width="1" height="26" fill="#ff0000"/>
<rect x="628" y="191" width="3" height="15" fill="#ff0000"/>
<rect x="629" y="192" width="1" height="13" fill="#ff4500"/>
<rect x="633" y="179" width="1" height="19" fill="#ff0000"/>
<rect x="632" y="181" width="3" height="11" fill="#ff0000"/>
<rect x="633" y="182" width="1" height="9" fill="#ff4500"/>
<rect x="637" y="180" width="1" height="45" fill="#25c425"/>
<rect x="636" y="181" width="3" height="39" fill="#25c425"/>
<rect x="637" y="182" width="1" height="37" fill="#35cf35"/>
<rect x="641" y="202" width="1" height="44" fill="#25c425"/>
<rect x="640" y="218" width="3" height="24" fill="#25c425"/>
<rect x="641" y="219" width="1" height="22" fill="#35cf35"/>
<rect x="645" y="206" width="1" height="25" fill="#ff0000"/>
<rect x="644" y="217" width="3" height="11" fill="#ff0000"/>
<rect x="645" y="218" width="1" height="9" fill="#ff4500"/>
<rect x="649" y="205" width="1" height="23" fill="#25c425"/>
<rect x="648" y="218" width="3" height="3" fill="#25c425"/>
<rect x="649" y="219" width="1" height="1" fill="#35cf35"/>
<rect x="653" y="190" width="1" height="33" fill="#ff0000"/>
<rect x="652" y="209" width="3" height="12" fill="#ff0000"/>
<rect x="653" y="210" width="1" height="10" fill="#ff4500"/>
<rect x="657" y="208" width="1" height="14" fill="#25c425"/>
<rect x="656" y="211" width="3" height="7" fill="#25c425"/>
<rect x="657" y="212" width="1" height="5" fill="#35cf35"/>
<rect x="661" y="210" width="1" height="19" fill="#25c425"/>
<rect x="660" y="217" width="3" height="9" fill="#25c425"/>
<rect x="661" y="218" width="1" height="7" fill="#35cf35"/>
<rect x="665" y="205" width="1" height="32" fill="#ff0000"/>
<rect x="664" y="206" width="3" height="17" fill="#ff0000"/>
<rect x="665" y="207" width="1" height="15" fill="#ff4500"/>
<rect x="669" y="199" width="1" height="21" fill="#25c425"/>
<rect x="668" y="206" width="3" height="6" fill="#25c425"/>
<rect x="669" y="207" width="1" height="4" fill="#35cf35"/>
<rect x="673" y="210" width="1" height="39" fill="#25c425"/>
<rect x="672" y="210" width="3" height="36" fill="#25c425"/>
<rect x="673" y="211" width="1" height="34" fill="#35cf35"/>
<rect x="677" y="230" width="1" height="21" fill="#ff0000"/>
<rect x="676" y="235" width="3" height="10" fill="#ff0000"/>
<rect x="677" y="236" width="1" height="8" fill="#ff4500"/>
<rect x="681" y="232" width="1" height="21" fill="#25c425"/>
<rect x="680" y="235" width="3" height="4" fill="#25c425"/>
<rect x="681" y="236" width="1" height="2" fill="#35cf35"/>
<rect x="685" y="231" width="1" height="20" fill="#25c425"/>
<rect x="684" y="240" width="3" height="6" fill="#25c425"/>
<rect x="685" y="241" width="1" height="4" fill="#35cf35"/>
<rect x="689" y="244" width="1" height="77" fill="#25c425"/>
<rect x="688" y="244" width="3" height="69" fill="#25c425"/>
<rect x="689" y="245" width="1" height="67" fill="#35cf35"/>
<rect x="693" y="286" width="1" height="30" fill="#ff0000"/>
<rect x="692" y="289" width="3" height="23" fill="#ff0000"/>
<rect x="693" y="290" width="1" height="21" fill="#ff4500"/>
<rect x="697" y="280" width="1" height="23" fill="#ff0000"/>
<rect x="696" y="288" width="3" height="3" fill="#ff0000"/>
<rect x="697" y="289" width="1" height="1" fill="#ff4500"/>
<rect x="701" y="283" width="1" height="28" fill="#25c425"/>
<rect x="700" y="288" width="3" height="14" fill="#25c425"/>
<rect x="701" y="289" width="1" height="12" fill="#35cf35"/>
<rect x="705" y="294" width="1" height="20" fill="#25c425"/>
<rect x="704" y="301" width="3" height="6" fill="#25c425"/>
<rect x="705" y="302" width="1" height="4" fill="#35cf35"/>
<rect x="709" y="298" width="1" height="15" fill="#25c425"/>
<rect x="708" y="305" width="3" height="4" fill="#25c425"/>
<rect x="709" y="306" width="1" height="2" fill="#35cf35"/>
<rect x="713" y="284" width="1" height="28" fill="#ff0000"/>
<rect x="712" y="288" width="3" height="20" fill="#ff0000"/>
<rect x="713" y="289" width="1" height="18" fill="#ff4500"/>
<rect x="717" y="274" width="1" height="25" fill="#25c425"/>
<rect x="716" y="287" width="3" height="9" fill="#25c425"/>
<rect x="717" y="288" width="1" height="7" fill="#35cf35"/>
<rect x="721" y="267" width="1" height="36" fill="#ff0000"/>
<rect x="720" y="270" width="3" height="26" fill="#ff0000"/>
<rect x="721" y="271" width="1" height="24" fill="#ff4500"/>
<rect x="725" y="269" width="1" height="22" fill="#25c425"/>
<rect x="724" y="271" width="3" height="17" fill="#25c425"/>
<rect x="725" y="272" width="1" height="15" fill="#35cf35"/>
<rect x="729" y="274" width="1" height="18" fill="#ff0000"/>
<rect x="728" y="277" width="3" height="10" fill="#ff0000"/>
<rect x="729" y="278" width="1" height="8" fill="#ff4500"/>
<rect x="733" y="272" width="1" height="21" fill="#25c425"/>
<rect x="732" y="277" width="3" height="15" fill="#25c425"/>
<rect x="733" y="278" width="1" height="13" fill="#35cf35"/>
<rect x="737" y="277" width="1" height="16" fill="#ff0000"/>
<rect x="736" y="286" width="3" height="6" fill="#ff0000"/>
<rect x="737" y="287" width="1" height="4" fill="#ff4500"/>
<rect x="741" y="270" width="1" height="19" fill="#ff0000"/>
<rect x="740" y="283" width="3" height="5" fill="#ff0000"/>
<rect x="741" y="284" width="1" height="3" fill="#ff4500"/>
<rect x="745" y="281" width="1" height="20" fill="#25c425"/>
<rect x="744" y="283" width="3" height="14" fill="#25c425"/>
<rect x="745" y="284" width="1" height="12" fill="#35cf35"/>
<rect x="749" y="283" width="1" height="17" fill="#25c425"/>
<rect x="748" y="295" width="3" height="4" fill="#25c425"/>
<rect x="749" y="296" width="1" height="2" fill="#35cf35"/>
<rect x="753" y="278" width="1" height="23" fill="#ff0000"/>
<rect x="752" y="280" width="3" height="17" fill="#ff0000"/>
<rect x="753" y="281" width="1" height="15" fill="#ff4500"/>
<rect x="757" y="270" width="1" height="32" fill="#25c425"/>
<rect x="756" y="280" width="3" height="11" fill="#25c425"/>
<rect x="757" y="281" width="1" height="9" fill="#35cf35"/>
<rect x="761" y="288" width="1" height="30" fill="#25c425"/>
<rect x="760" y="290" width="3" height="14" fill="#25c425"/>
<rect x="761" y="291" width="1" height="12" fill="#35cf35"/>
<rect x="765" y="299" width="1" height="16" fill="#ff0000"/>
<rect x="764" y="303" width="3" height="7" fill="#ff0000"/>
<rect x="765" y="304" width="1" height="5" fill="#ff4500"/>
<rect x="769" y="283" width="1" height="46" fill="#ff0000"/>
<rect x="768" y="292" width="3" height="13" fill="#ff0000"/>
<rect x="769" y="293" width="1" height="11" fill="#ff4500"/>
<rect x="773" y="289" width="1" height="28" fill="#25c425"/>
<rect x="772" y="290" width="3" height="23" fill="#25c425"/>
<rect x="773" y="291" width="1" height="21" fill="#35cf35"/>
<rect x="777" y="293" width="1" height="22" fill="#ff0000"/>
<rect x="776" y="306" width="3" height="7" fill="#ff0000"/>
<rect x="777" y="307" width="1" height="5" fill="#ff4500"/>
<rect x="781" y="286" width="1" height="22" fill="#ff0000"/>
<rect x="780" y="292" width="3" height="16" fill="#ff0000"/>
<rect x="781" y="293" width="1" height="14" fill="#ff4500"/>
<rect x="785" y="286" width="1" height="25" fill="#25c425"/>
<rect x="784" y="289" width="3" height="8" fill="#25c425"/>
<rect x="785" y="290" width="1" height="6" fill="#35cf35"/>
<rect x="789" y="286" width="1" height="17" fill="#ff0000"/>
<rect x="788" y="291" width="3" height="5" fill="#ff0000"/>
<rect x="789" y="292" width="1" height="3" fill="#ff4500"/>
<rect x="793" y="282" width="1" height="17" fill="#ff0000"/>
<rect x="792" y="287" width="3" height="7" fill="#ff0000"/>
<rect x="793" y="288" width="1" height="5" fill="#ff4500"/>
<rect x="797" y="285" width="1" height="16" fill="#25c425"/>
<rect x="796" y="286" width="3" height="9" fill="#25c425"/>
<rect x="797" y="287" width="1" height="7" fill="#35cf35"/>
<rect x="801" y="280" width="1" height="17" fill="#ff0000"/>
<rect x="800" y="283" width="3" height="13" fill="#ff0000"/>
<rect x="801" y="284" width="1" height="11" fill="#ff4500"/>
<rect x="805" y="286" width="1" height="20" fill="#25c425"/>
<rect x="804" y="286" width="3" height="16" fill="#25c425"/>
<rect x="805" y="287" width="1" height="14" fill="#35cf35"/>
<rect x="809" y="299" width="1" height="29" fill="#25c425"/>
<rect x="808" y="300" width="3" height="22" fill="#25c425"/>
<rect x="809" y="301" width="1" height="20" fill="#35cf35"/>
<rect x="813" y="312" width="1" height="15" fill="#ff0000"/>
<rect x="812" y="316" width="3" height="6" fill="#ff0000"/>
<rect x="813" y="317" width="1" height="4" fill="#ff4500"/>
<rect x="817" y="308" width="1" height="14" fill="#ff0000"/>
<rect x="816" y="315" width="3" height="3" fill="#ff0000"/>
<rect x="817" y="316" width="1" height="1" fill="#ff4500"/>
<rect x="821" y="305" width="1" height="18" fill="#ff0000"/>
<rect x="820" y="313" width="3" height="3" fill="#ff0000"/>
<rect x="821" y="314" width="1" height="1" fill="#ff4500"/>
<rect x="825" y="306" width="1" height="14" fill="#ff0000"/>
<rect x="824" y="312" width="3" height="2" fill="#ff0000"/>
<rect x="829" y="310" width="1" height="21" fill="#25c425"/>
<rect x="828" y="312" width="3" height="15" fill="#25c425"/>
<rect x="829" y="313" width="1" height="13" fill="#35cf35"/>
<rect x="833" y="322" width="1" height="46" fill="#25c425"/>
<rect x="832" y="325" width="3" height="26" fill="#25c425"/>
<rect x="833" y="326" width="1" height="24" fill="#35cf35"/>
<rect x="837" y="300" width="1" height="58" fill="#ff0000"/>
<rect x="836" y="309" width="3" height="42" fill="#ff0000"/>
<rect x="837" y="310" width="1" height="40" fill="#ff4500"/>
<rect x="841" y="294" width="1" height="33" fill="#25c425"/>
<rect x="840" y="309" width="3" height="3" fill="#25c425"/>
<rect x="841" y="310" width="1" height="1" fill="#35cf35"/>
<rect x="845" y="309" width="1" height="18" fill="#25c425"/>
<rect x="844" y="311" width="3" height="6" fill="#25c425"/>
<rect x="845" y="312" width="1" height="4" fill="#35cf35"/>
<rect x="849" y="311" width="1" height="13" fill="#25c425"/>
<rect x="848" y="313" width="3" height="4" fill="#25c425"/>
<rect x="849" y="314" width="1" height="2" fill="#35cf35"/>
<rect x="853" y="304" width="1" height="17" fill="#ff0000"/>
<rect x="852" y="311" width="3" height="6" fill="#ff0000"/>
<rect x="853" y="312" width="1" height="4" fill="#ff4500"/>
<rect x="857" y="304" width="1" height="15" fill="#ff0000"/>
<rect x="856" y="307" width="3" height="5" fill="#ff0000"/>
<rect x="857" y="308" width="1" height="3" fill="#ff4500"/>
<rect x="861" y="288" width="1" height="26" fill="#ff0000"/>
<rect x="860" y="298" width="3" height="10" fill="#ff0000"/>
<rect x="861" y="299" width="1" height="8" fill="#ff4500"/>
<rect x="865" y="292" width="1" height="15" fill="#25c425"/>
<rect x="864" y="295" width="3" height="8" fill="#25c425"/>
<rect x="865" y="296" width="1" height="6" fill="#35cf35"/>
<rect x="869" y="299" width="1" height="15" fill="#25c425"/>
<rect x="868" y="301" width="3" height="9" fill="#25c425"/>
<rect x="869" y="302" width="1" height="7" fill="#35cf35"/>
<rect x="873" y="303" width="1" height="10" fill="#25c425"/>
<rect x="872" y="309" width="3" height="2" fill="#25c425"/>
<rect x="877" y="306" width="1" height="9" fill="#25c425"/>
<rect x="876" y="309" width="3" height="3" fill="#25c425"/>
<rect x="877" y="310" width="1" height="1" fill="#35cf35"/>
<rect x="881" y="306" width="1" height="9" fill="#25c425"/>
<rect x="880" y="310" width="3" height="2" fill="#25c425"/>
<rect x="885" y="309" width="1" height="11" fill="#ff0000"/>
<rect x="884" y="313" width="3" height="4" fill="#ff0000"/>
<rect x="885" y="314" width="1" height="2" fill="#ff4500"/>
<rect x="889" y="308" width="1" height="12" fill="#25c425"/>
<rect x="888" y="313" width="3" height="4" fill="#25c425"/>
<rect x="889" y="314" width="1" height="2" fill="#35cf35"/>
<rect x="893" y="312" width="1" height="13" fill="#25c425"/>
<rect x="892" y="315" width="3" height="6" fill="#25c425"/>
<rect x="893" y="316" width="1" height="4" fill="#35cf35"/>
<rect x="897" y="306" width="1" height="18" fill="#ff0000"/>
<rect x="896" y="310" width="3" height="11" fill="#ff0000"/>
<rect x="897" y="311" width="1" height="9" fill="#ff4500"/>
<rect x="901" y="306" width="1" height="54" fill="#25c425"/>
<rect x="900" y="311" width="3" height="16" fill="#25c425"/>
<rect x="901" y="312" width="1" height="14" fill="#35cf35"/>
<rect x="905" y="312" width="1" height="31" fill="#ff0000"/>
<rect x="904" y="317" width="3" height="16" fill="#ff0000"/>
<rect x="905" y="318" width="1" height="14" fill="#ff4500"/>
<rect x="909" y="301" width="1" height="19" fill="#ff0000"/>
<rect x="908" y="313" width="3" height="6" fill="#ff0000"/>
<rect x="909" y="314" width="1" height="4" fill="#ff4500"/>
<rect x="913" y="309" width="1" height="16" fill="#25c425"/>
<rect x="912" y="312" width="3" height="2" fill="#25c425"/>
<rect x="917" y="283" width="1" height="34" fill="#ff0000"/>
<rect x="916" y="291" width="3" height="24" fill="#ff0000"/>
<rect x="917" y="292" width="1" height="22" fill="#ff4500"/>
<rect x="921" y="289" width="1" height="20" fill="#25c425"/>
<rect x="920" y="291" width="3" height="12" fill="#25c425"/>
<rect x="921" y="292" width="1" height="10" fill="#35cf35"/>
<rect x="925" y="297" width="1" height="14" fill="#25c425"/>
<rect x="924" y="303" width="3" height="4" fill="#25c425"/>
<rect x="925" y="304" width="1" height="2" fill="#35cf35"/>
<rect x="4" y="26" width="1" height="484" fill="#000"/>
</svg>
<div class="t k" style="left:1173.10px;top:39.04px;font-size:9.4px;color:#000;transform:scaleX(0.9536);">6.58710</div>
<div class="t k" style="left:1173.10px;top:72.04px;font-size:9.4px;color:#000;transform:scaleX(0.9536);">6.56085</div>
<div class="t k" style="left:1173.10px;top:105.04px;font-size:9.4px;color:#000;transform:scaleX(0.9536);">6.53460</div>
<div class="t k" style="left:1173.10px;top:138.04px;font-size:9.4px;color:#000;transform:scaleX(0.9536);">6.50835</div>
<div class="t k" style="left:1173.10px;top:171.04px;font-size:9.4px;color:#000;transform:scaleX(0.9536);">6.48210</div>
<div class="t k" style="left:1173.10px;top:204.04px;font-size:9.4px;color:#000;transform:scaleX(0.9536);">6.45585</div>
<div class="t k" style="left:1173.10px;top:237.04px;font-size:9.4px;color:#000;transform:scaleX(0.9536);">6.42960</div>
<div class="t k" style="left:1173.10px;top:270.04px;font-size:9.4px;color:#000;transform:scaleX(0.9536);">6.40335</div>
<div class="t k" style="left:1173.10px;top:336.04px;font-size:9.4px;color:#000;transform:scaleX(0.9536);">6.35160</div>
<div class="t k" style="left:1173.10px;top:369.04px;font-size:9.4px;color:#000;transform:scaleX(0.9536);height:8px;overflow:hidden;">6.32535</div>
<div class="t k" style="left:1170.80px;top:380.64px;font-size:9.4px;color:#000;transform:scaleX(0.9536);">0.02607</div>
<div class="t k" style="left:1170.80px;top:403.04px;font-size:9.4px;color:#000;transform:scaleX(0.9540);">0.00</div>
<div class="t k" style="left:1170.80px;top:431.14px;font-size:9.4px;color:#000;transform:scaleX(0.9540);">-0.031872</div>
<div class="t k" style="left:1170.80px;top:446.74px;font-size:9.4px;color:#000;transform:scaleX(0.9540);">100</div>
<div class="t k" style="left:1170.80px;top:460.54px;font-size:9.4px;color:#000;transform:scaleX(0.9540);">70</div>
<div class="t k" style="left:1170.80px;top:486.04px;font-size:9.4px;color:#000;transform:scaleX(0.9540);">30</div>
<div class="t k" style="left:1170.80px;top:498.84px;font-size:9.4px;color:#000;transform:scaleX(0.9540);">0</div>
<div class="a" style="left:1169px;top:120px;width:41px;height:11px;background:#ff0000;"></div>
<div class="t" style="left:1173.10px;top:121.24px;font-size:9.4px;color:#fff;transform:scaleX(0.9536);">6.52126</div>
<div class="a" style="left:1169px;top:184px;width:41px;height:11px;background:#ff0000;"></div>
<div class="t" style="left:1173.10px;top:185.24px;font-size:9.4px;color:#fff;transform:scaleX(0.9536);">6.47044</div>
<div class="a" style="left:1169px;top:242px;width:41px;height:11px;background:#00ff00;"></div>
<div class="t" style="left:1173.10px;top:243.24px;font-size:9.4px;color:#fff;transform:scaleX(0.9536);">6.42424</div>
<div class="a" style="left:1169px;top:300px;width:41px;height:11px;background:#000000;"></div>
<div class="t" style="left:1173.10px;top:301.24px;font-size:9.4px;color:#fff;transform:scaleX(0.9536);">6.37943</div>
<div class="a" style="left:1169px;top:310px;width:41px;height:11px;background:#0000ff;"></div>
<div class="t" style="left:1173.10px;top:311.24px;font-size:9.4px;color:#fff;transform:scaleX(0.9536);">6.37063</div>
<div class="a" style="left:1169px;top:360px;width:41px;height:11px;background:#0000ff;"></div>
<div class="t" style="left:1173.10px;top:361.24px;font-size:9.4px;color:#fff;transform:scaleX(0.9536);">6.33041</div>
<div class="a" style="left:5px;top:27px;width:225px;height:78px;background:#fff;"></div>
<div class="a" style="left:7.5px;top:32.7px;width:0;height:0;border-left:4px solid transparent;border-right:4px solid transparent;border-bottom:4.5px solid #000"></div>
<div class="t k" style="left:20.40px;top:29.60px;font-size:9.8px;color:#000;transform:scaleX(0.9815);">USDCNH-,Daily</div>
<div class="t k" style="left:95.30px;top:29.60px;font-size:9.8px;color:#000;transform:scaleX(0.8950);">6.38079</div>
<div class="t k" style="left:131.50px;top:29.60px;font-size:9.8px;color:#000;transform:scaleX(0.8950);">6.38531</div>
<div class="t k" style="left:167.70px;top:29.60px;font-size:9.8px;color:#000;transform:scaleX(0.8950);">6.37602</div>
<div class="t k" style="left:203.90px;top:29.60px;font-size:9.8px;color:#000;transform:scaleX(0.8950);">6.37943</div>
<div class="t k" style="left:9.60px;top:382.90px;font-size:9.8px;color:#000;transform:scaleX(0.9519);">MACD(12,26,9)</div>
<div class="t k" style="left:78.50px;top:382.90px;font-size:9.8px;color:#000;transform:scaleX(0.9177);">-0.000243</div>
<div class="t k" style="left:122.30px;top:382.90px;font-size:9.8px;color:#000;transform:scaleX(0.9177);">-0.002437</div>
<div class="t k" style="left:9.40px;top:448.90px;font-size:9.8px;color:#000;transform:scaleX(0.9182);">RSI(14)</div>
<div class="t k" style="left:44.30px;top:448.90px;font-size:9.8px;color:#000;transform:scaleX(0.9204);">51.6233</div>
<div class="a" style="left:8px;top:46px;width:52px;height:25px;background:linear-gradient(#5555f5,#3a3aec);"></div>
<div class="a" style="left:175px;top:46px;width:52px;height:25px;background:linear-gradient(#5555f5,#3a3aec);"></div>
<div class="a" style="left:8px;top:70px;width:109px;height:33px;background:linear-gradient(#2c2ce4,#0a0ab4);"></div>
<div class="a" style="left:119px;top:70px;width:108px;height:33px;background:linear-gradient(#2c2ce4,#0a0ab4);"></div>
<div class="a" style="left:12px;top:70px;width:44px;height:1px;background:#8888ff;"></div>
<div class="a" style="left:179px;top:70px;width:44px;height:1px;background:#8888ff;"></div>
<div class="a" style="left:60px;top:46px;width:115px;height:24px;background:#fff;"></div>
<div class="a" style="left:62px;top:46px;width:111px;height:22px;background:#fff;border:1px solid #b4b4b4"></div>
<div class="a" style="left:63px;top:47px;width:20px;height:20px;background:linear-gradient(#ececec,#c6c6c6);border-right:1px solid #b4b4b4"></div>
<div class="a" style="left:152px;top:47px;width:20px;height:20px;background:linear-gradient(#ececec,#c6c6c6);border-left:1px solid #b4b4b4"></div>
<div class="a" style="left:70px;top:56px;width:0;height:0;border-left:3px solid transparent;border-right:3px solid transparent;border-top:3px solid #4a5cc0"></div>
<div class="a" style="left:159px;top:55px;width:0;height:0;border-left:3px solid transparent;border-right:3px solid transparent;border-bottom:3px solid #4a5cc0"></div>
<div class="t" style="left:124.00px;top:50.16px;font-size:12.8px;color:#000;transform:scaleX(0.9755);">3.00</div>
<div class="t" style="left:20.70px;top:51.64px;font-size:12px;color:#fff;transform:scaleX(0.8551);">SELL</div>
<div class="t" style="left:188.40px;top:51.64px;font-size:12px;color:#fff;transform:scaleX(0.9483);">BUY</div>
<div class="t" style="left:28.30px;top:87.82px;font-size:11.2px;color:#fff;font-weight:bold;transform:scaleX(1.0369);">6.37</div>
<div class="t" style="left:138.80px;top:87.82px;font-size:11.2px;color:#fff;font-weight:bold;transform:scaleX(1.0552);">6.38</div>
<div class="t" style="left:56.70px;top:70.13px;font-size:32.8px;color:#fff;transform:scaleX(0.9128);">94</div>
<div class="t" style="left:167.40px;top:70.13px;font-size:32.8px;color:#fff;transform:scaleX(0.8936);">23</div>
<div class="t" style="left:95.70px;top:72.29px;font-size:11px;color:#fff;font-weight:bold;transform:scaleX(0.9809);">3</div>
<div class="t" style="left:207.20px;top:72.29px;font-size:11px;color:#fff;font-weight:bold;transform:scaleX(0.9155);">2</div>
<div class="t k" style="left:4.60px;top:514.90px;font-size:9.8px;color:#000;transform:scaleX(0.9350);">19 Feb 2021</div>
<div class="t k" style="left:68.60px;top:514.90px;font-size:9.8px;color:#000;transform:scaleX(0.9350);">15 Mar 2021</div>
<div class="t k" style="left:132.60px;top:514.90px;font-size:9.8px;color:#000;transform:scaleX(0.9350);">7 Apr 2021</div>
<div class="t k" style="left:196.60px;top:514.90px;font-size:9.8px;color:#000;transform:scaleX(0.9350);">29 Apr 2021</div>
<div class="t k" style="left:260.60px;top:514.90px;font-size:9.8px;color:#000;transform:scaleX(0.9350);">21 May 2021</div>
<div class="t k" style="left:324.60px;top:514.90px;font-size:9.8px;color:#000;transform:scaleX(0.9350);">14 Jun 2021</div>
<div class="t k" style="left:388.60px;top:514.90px;font-size:9.8px;color:#000;transform:scaleX(0.9350);">6 Jul 2021</div>
<div class="t k" style="left:452.60px;top:514.90px;font-size:9.8px;color:#000;transform:scaleX(0.9350);">28 Jul 2021</div>
<div class="t k" style="left:516.60px;top:514.90px;font-size:9.8px;color:#000;transform:scaleX(0.9350);">19 Aug 2021</div>
<div class="t k" style="left:580.60px;top:514.90px;font-size:9.8px;color:#000;transform:scaleX(0.9350);">10 Sep 2021</div>
<div class="t k" style="left:644.60px;top:514.90px;font-size:9.8px;color:#000;transform:scaleX(0.9350);">4 Oct 2021</div>
<div class="t k" style="left:708.60px;top:514.90px;font-size:9.8px;color:#000;transform:scaleX(0.9350);">26 Oct 2021</div>
<div class="t k" style="left:772.60px;top:514.90px;font-size:9.8px;color:#000;transform:scaleX(0.9350);">17 Nov 2021</div>
<div class="t k" style="left:836.60px;top:514.90px;font-size:9.8px;color:#000;transform:scaleX(0.9350);">9 Dec 2021</div>
<div class="t k" style="left:900.60px;top:514.90px;font-size:9.8px;color:#000;transform:scaleX(0.9350);">31 Dec 2021</div>
<div class="a" style="left:0px;top:531px;width:1210px;height:2px;background:#ececec;"></div>
<div class="a" style="left:0px;top:533px;width:1210px;height:1px;background:#000;"></div>
<div class="a" style="left:0px;top:534px;width:1210px;height:18px;background:#f0f0f0;"></div>
<div class="a" style="left:0px;top:534px;width:2px;height:18px;background:#7a7a7a;"></div>
<div class="a" style="left:0px;top:552px;width:1210px;height:1px;background:#dcdcdc;"></div>
<div class="a" style="left:0px;top:553px;width:1210px;height:3px;background:#f6f6f6;"></div>
<div class="a" style="left:0px;top:556px;width:1210px;height:2px;background:#c4c4c4;"></div>
<div class="a" style="left:526px;top:531px;width:112px;height:21px;background:#fff;border:1px solid #000;border-top:none"></div>
<div class="t" style="left:17.40px;top:537.39px;font-size:12.3px;color:#757575;transform:scaleX(0.9950);">USDX,Weekly</div>
<div class="t" style="left:117.50px;top:537.39px;font-size:12.3px;color:#757575;transform:scaleX(0.9678);">EURUSD-,Daily</div>
<div class="t" style="left:224.50px;top:537.39px;font-size:12.3px;color:#757575;transform:scaleX(0.9909);">AUDUSD-,Daily</div>
<div class="t" style="left:334.50px;top:537.39px;font-size:12.3px;color:#757575;transform:scaleX(0.9532);">USDCHF-,H4</div>
<div class="t" style="left:430.00px;top:537.39px;font-size:12.3px;color:#757575;transform:scaleX(0.9736);">USDCAD-,Daily</div>
<div class="t" style="left:649.00px;top:537.39px;font-size:12.3px;color:#757575;transform:scaleX(0.9866);">XAUUSD-,H1</div>
<div class="t" style="left:745.50px;top:537.39px;font-size:12.3px;color:#757575;transform:scaleX(1.0154);">UKOil-,Daily</div>
<div class="t" style="left:838.00px;top:537.39px;font-size:12.3px;color:#757575;transform:scaleX(1.0069);">DJ30-,Daily</div>
<div class="t" style="left:925.50px;top:537.39px;font-size:12.3px;color:#757575;transform:scaleX(1.0108);">UK100-,H1</div>
<div class="t" style="left:538.70px;top:537.59px;font-size:12.3px;color:#000;transform:scaleX(0.9958);">USDCNH-,Daily</div>
<div class="a" style="left:106px;top:536px;width:1px;height:13px;background:#808080;"></div>
<div class="a" style="left:214px;top:536px;width:1px;height:13px;background:#808080;"></div>
<div class="a" style="left:322px;top:536px;width:1px;height:13px;background:#808080;"></div>
<div class="a" style="left:418px;top:536px;width:1px;height:13px;background:#808080;"></div>
<div class="a" style="left:734px;top:536px;width:1px;height:13px;background:#808080;"></div>
<div class="a" style="left:825px;top:536px;width:1px;height:13px;background:#808080;"></div>
<div class="a" style="left:913px;top:536px;width:1px;height:13px;background:#808080;"></div>
<div class="a" style="left:998px;top:536px;width:1px;height:13px;background:#808080;"></div>
<div class="a" style="left:1182px;top:538px;width:0;height:0;border-top:4px solid transparent;border-bottom:4px solid transparent;border-right:4px solid #9a9a9a"></div>
<div class="a" style="left:1202px;top:538px;width:0;height:0;border-top:4px solid transparent;border-bottom:4px solid transparent;border-left:4px solid #9a9a9a"></div>
</body></html>
